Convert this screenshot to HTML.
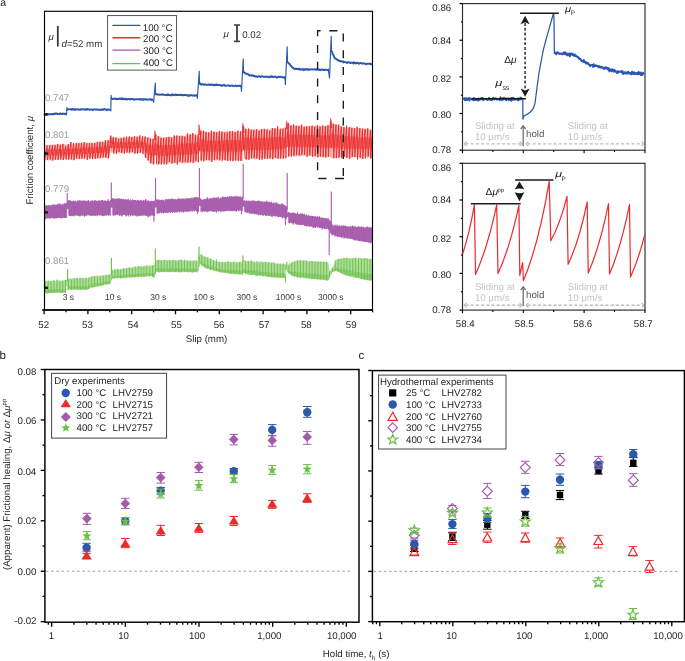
<!DOCTYPE html>
<html><head><meta charset="utf-8"><style>
html,body{margin:0;padding:0;background:#fff;width:685px;height:661px;overflow:hidden}
svg{display:block;font-family:"Liberation Sans",sans-serif;text-rendering:geometricPrecision;will-change:transform}
</style></head><body>
<svg width="685" height="661" viewBox="0 0 685 661" font-family="Liberation Sans, sans-serif">
<text x="0.3" y="5.9" font-size="10.6" text-anchor="start" fill="#2a2a2a" >a</text>
<polyline points="44.6,114.3 45.2,114.38 45.8,114.2 46.4,114 47,114.12 47.6,113.95 48.2,114.25 48.8,114.62 49.4,114.06 50,114.01 50.6,114.34 51.2,114.28 51.8,114.2 52.4,113.88 53,114.14 53.6,114.34 54.2,113.72 54.8,113.97 55.4,113.53 56,113.7 56.6,113.53 57.2,114 57.8,113.68 58.4,114.13 59,114.08 59.6,113.97 60.2,113.26 60.8,113.84 61.4,113.97 62,114.01 62.6,113.51 63.2,113.81 63.8,113.65 64.4,113.69 65,114.24 65.6,113.67 66.2,113.89" fill="none" stroke="#2b58ad" stroke-width="1.9" stroke-linejoin="round" stroke-linecap="round"/>
<polyline points="66.2,113.89 66.5,114.8 67,107.6 67.4,109.57" fill="none" stroke="#2b58ad" stroke-width="1.15" stroke-linejoin="round"/>
<polyline points="67.4,109.57 68,109.13 68.6,109.28 69.2,109.35 69.8,109.34 70.4,108.96 71,109.36 71.6,109.75 72.2,108.88 72.8,109.61 73.4,109.39 74,109.17 74.6,109.97 75.2,109.6 75.8,109.02 76.4,109.41 77,109.56 77.6,109.34 78.2,109.61 78.8,109.39 79.4,109.61 80,109.85 80.6,109.22 81.2,109.49 81.8,109.29 82.4,109.48 83,109.09 83.6,109.28 84.2,109.4 84.8,109.73 85.4,109.81 86,109.08 86.6,109.24 87.2,109.68 87.8,108.89 88.4,109.36 89,109.47 89.6,109.88 90.2,109.72 90.8,109.42 91.4,109.41 92,109.45 92.6,109.99 93.2,109.41 93.8,109.45 94.4,109.66 95,109.52 95.6,109.5 96.2,109.23 96.8,109.57 97.4,109.45 98,109.93 98.6,109.79 99.2,109.59 99.8,109.8 100.4,109.51 101,109.93 101.6,109.62 102.2,109.8 102.8,109.24 103.4,109.74 104,109.13 104.6,109.04 105.2,109.56 105.8,109.39 106.4,109.71 107,110.34 107.6,109.42 108.2,109.49 108.8,109.75 109.4,109.84 110,109.64" fill="none" stroke="#2b58ad" stroke-width="1.9" stroke-linejoin="round" stroke-linecap="round"/>
<polyline points="110,109.64 110.8,110.9 111.1,95.3 111.5,98.74" fill="none" stroke="#2b58ad" stroke-width="1.15" stroke-linejoin="round"/>
<polyline points="111.5,98.74 112.1,99.02 112.7,98.98 113.3,98.53 113.9,98.83 114.5,98.88 115.1,98.56 115.7,98.97 116.3,98.65 116.9,99.21 117.5,98.99 118.1,98.97 118.7,98.78 119.3,98.93 119.9,98.38 120.5,98.65 121.1,99.12 121.7,98.38 122.3,99.29 122.9,98.52 123.5,99.29 124.1,98.82 124.7,99.32 125.3,99.14 125.9,98.65 126.5,99.5 127.1,99.57 127.7,99.13 128.3,99.08 128.9,99.13 129.5,98.9 130.1,99.53 130.7,99.05 131.3,99.21 131.9,99 132.5,99.06 133.1,98.88 133.7,99.66 134.3,99.24 134.9,99.59 135.5,99.32 136.1,99.12 136.7,99.24 137.3,99.19 137.9,99.37 138.5,99.27 139.1,99.3 139.7,98.99 140.3,99.18 140.9,99.93 141.5,99.24 142.1,99.14 142.7,99.57 143.3,99.91 143.9,99.06 144.5,99.45 145.1,99.33 145.7,99.01 146.3,99.77 146.9,99.56 147.5,99.6 148.1,99.36 148.7,99.74 149.3,99.45 149.9,99.58 150.5,99.31 151.1,99.29 151.7,100.07 152.3,99.53 152.9,99.78" fill="none" stroke="#2b58ad" stroke-width="1.9" stroke-linejoin="round" stroke-linecap="round"/>
<polyline points="152.9,99.78 153.6,102.3 155.3,83.1 155.6,94.39" fill="none" stroke="#2b58ad" stroke-width="1.15" stroke-linejoin="round"/>
<polyline points="155.6,94.39 156.2,94.29 156.8,94.28 157.4,94.64 158,94.38 158.6,94.44 159.2,94.51 159.8,94.87 160.4,94.74 161,94.67 161.6,94.4 162.2,94.18 162.8,94.89 163.4,94.92 164,94.6 164.6,94.82 165.2,94.91 165.8,94.94 166.4,94.99 167,94.59 167.6,95.2 168.2,94.39 168.8,95.04 169.4,94.95 170,95.08 170.6,95.4 171.2,95.3 171.8,94.52 172.4,94.38 173,95.15 173.6,94.62 174.2,94.93 174.8,95.21 175.4,94.48 176,94.36 176.6,95.09 177.2,95.04 177.8,94.97 178.4,95.07 179,94.82 179.6,94.64 180.2,95.06 180.8,94.84 181.4,94.65 182,95.32 182.6,95.16 183.2,95.32 183.8,94.92 184.4,95.04 185,94.95 185.6,95 186.2,95.34 186.8,95.07 187.4,95.43 188,95.44 188.6,95.96 189.2,94.95 189.8,95.66 190.4,95.38 191,95.42 191.6,95.01 192.2,95.32 192.8,95.7 193.4,95.47 194,95.53 194.6,95.44 195.2,95.89 195.8,95.56 196.4,94.92 197,95.39" fill="none" stroke="#2b58ad" stroke-width="1.9" stroke-linejoin="round" stroke-linecap="round"/>
<polyline points="197,95.39 197.4,98.3 199.2,71.2 199.5,83.71" fill="none" stroke="#2b58ad" stroke-width="1.15" stroke-linejoin="round"/>
<polyline points="199.5,83.71 200.1,83.35 200.7,84.19 201.3,84.78 201.9,84.42 202.5,84.08 203.1,84.17 203.7,84.82 204.3,84.55 204.9,84.55 205.5,84.54 206.1,84.6 206.7,84.85 207.3,84.8 207.9,84.73 208.5,84.38 209.1,84.87 209.7,84.54 210.3,85.09 210.9,84.41 211.5,84.78 212.1,84.84 212.7,84.47 213.3,85.41 213.9,85.36 214.5,84.81 215.1,85.2 215.7,85.11 216.3,84.24 216.9,85.13 217.5,85.06 218.1,85.13 218.7,84.81 219.3,85.07 219.9,85.13 220.5,85.56 221.1,85.33 221.7,85.26 222.3,85.74 222.9,85.14 223.5,85.22 224.1,84.82 224.7,85.86 225.3,85.7 225.9,85.71 226.5,85.67 227.1,85.52 227.7,85.58 228.3,85.47 228.9,85.51 229.5,85.61 230.1,86.07 230.7,85.81 231.3,85.66 231.9,85.52 232.5,85.53 233.1,86.23 233.7,85.93 234.3,85.82 234.9,85.72 235.5,85.52 236.1,85.86 236.7,86.17 237.3,85.81 237.9,85.89 238.5,85.92 239.1,86.04 239.7,85.56 240.3,85.99 240.9,85.83" fill="none" stroke="#2b58ad" stroke-width="1.9" stroke-linejoin="round" stroke-linecap="round"/>
<polyline points="240.9,85.83 241.5,91.3 243.2,58.9 243.5,72.27" fill="none" stroke="#2b58ad" stroke-width="1.15" stroke-linejoin="round"/>
<polyline points="243.5,72.27 244.1,72.13 244.7,72.89 245.3,73.54 245.9,73.35 246.5,73.54 247.1,74.05 247.7,74.26 248.3,74.24 248.9,74.94 249.5,75.68 250.1,75.24 250.7,75.34 251.3,75.18 251.9,75.68 252.5,75.3 253.1,75.43 253.7,76.24 254.3,75.67 254.9,76.36 255.5,76.58 256.1,76.29 256.7,76.47 257.3,76.98 257.9,76.43 258.5,76.34 259.1,76.12 259.7,76.56 260.3,77 260.9,76.86 261.5,76.31 262.1,76.35 262.7,76.47 263.3,76.73 263.9,76.59 264.5,76.73 265.1,76.77 265.7,76.61 266.3,76.7 266.9,76.79 267.5,76.72 268.1,76.91 268.7,77.34 269.3,76.97 269.9,76.83 270.5,76.32 271.1,76.96 271.7,76.27 272.3,76.45 272.9,77.14 273.5,77.11 274.1,76.87 274.7,76.42 275.3,76.84 275.9,76.76 276.5,77.17 277.1,77.67 277.7,77.08 278.3,76.79 278.9,76.69 279.5,77.04 280.1,77.02 280.7,76.74 281.3,77.14 281.9,76.77 282.5,77.47 283.1,77.47 283.7,77.49 284.3,77.04 284.9,77.35" fill="none" stroke="#2b58ad" stroke-width="1.9" stroke-linejoin="round" stroke-linecap="round"/>
<polyline points="284.9,77.35 285.4,84.4 287.2,46.8 287.5,62.16" fill="none" stroke="#2b58ad" stroke-width="1.15" stroke-linejoin="round"/>
<polyline points="287.5,62.16 288.1,62.71 288.7,63.36 289.3,63.7 289.9,64.28 290.5,65.59 291.1,65.92 291.7,66.67 292.3,67.54 292.9,67.35 293.5,68.26 294.1,68.71 294.7,68.84 295.3,68.67 295.9,69.16 296.5,68.98 297.1,68.62 297.7,68.77 298.3,69.36 298.9,69.32 299.5,68.68 300.1,69.71 300.7,69.49 301.3,69.73 301.9,69.23 302.5,69.26 303.1,69.03 303.7,70.14 304.3,69.34 304.9,69.88 305.5,69.22 306.1,69.48 306.7,68.94 307.3,69.34 307.9,69.76 308.5,69.1 309.1,69.81 309.7,69.61 310.3,69.2 310.9,69.38 311.5,69.41 312.1,69.54 312.7,69.41 313.3,69.33 313.9,69.5 314.5,69.3 315.1,69.23 315.7,69.62 316.3,69.91 316.9,69.2 317.5,69.67 318.1,69.49 318.7,69.4 319.3,69.96 319.9,69.56 320.5,70.18 321.1,69.51 321.7,69.87 322.3,69.7 322.9,69.56 323.5,69.97 324.1,69.76 324.7,70 325.3,69.82 325.9,69.52 326.5,69.83 327.1,69.89 327.7,70.17 328.3,69.63" fill="none" stroke="#2b58ad" stroke-width="1.9" stroke-linejoin="round" stroke-linecap="round"/>
<polyline points="328.3,69.63 329.5,78 331.2,36.2 331.5,51.49" fill="none" stroke="#2b58ad" stroke-width="1.15" stroke-linejoin="round"/>
<polyline points="331.5,51.49 332.1,51.78 332.7,53.98 333.3,54.95 333.9,56.21 334.5,57.75 335.1,58.64 335.7,58.39 336.3,59.06 336.9,59.71 337.5,59.96 338.1,60.61 338.7,60.45 339.3,60.67 339.9,61.26 340.5,61.05 341.1,61.6 341.7,61.38 342.3,61.4 342.9,61.3 343.5,62.49 344.1,61.91 344.7,62.16 345.3,62.16 345.9,62.3 346.5,62.35 347.1,62.98 347.7,62.18 348.3,62.1 348.9,62.35 349.5,62.33 350.1,63.03 350.7,63.09 351.3,62.59 351.9,62.49 352.5,62.84 353.1,63.4 353.7,62.17 354.3,63.21 354.9,62.76 355.5,63.43 356.1,62.83 356.7,63.11 357.3,62.78 357.9,62.97 358.5,63.71 359.1,63.58 359.7,63.25 360.3,63.14 360.9,62.87 361.5,63.36 362.1,63.5 362.7,63.52 363.3,63.55 363.9,63.28 364.5,63.63 365.1,63.67 365.7,64.11 366.3,64.31 366.9,63.75 367.5,63.59 368.1,63.84 368.7,63.71 369.3,63.71 369.9,63.95 370.5,63.69 371.1,64.22 371.7,64.04" fill="none" stroke="#2b58ad" stroke-width="1.9" stroke-linejoin="round" stroke-linecap="round"/>
<polygon points="44.8,145.53 45.5,145.23 46.2,144.87 46.9,144.7 47.6,145.08 48.3,144.86 49,145.29 49.7,145.11 50.4,144.25 51.1,145.07 51.8,144.19 52.5,144.58 53.2,144.74 53.9,143.63 54.6,144.89 55.3,144.89 56,144.66 56.7,144.46 57.4,144.46 58.1,144.06 58.8,144.44 59.5,144.23 60.2,144.58 60.9,143.76 61.6,144.59 62.3,144.49 63,144.28 63.7,144.06 64.4,144.62 65.1,143.25 65.8,144.49 66.5,144.31 67.2,144.29 67.9,144.3 68.6,143.62 69.3,143.81 70,144.3 70.7,144.13 71.4,143.94 72.1,142.86 72.8,144.04 73.5,144.37 74.2,144.23 74.9,143.71 75.6,142.59 76.3,144.04 77,143.34 77.7,141.85 78.4,143.55 79.1,142.38 79.8,142.45 80.5,142.8 81.2,143.89 81.9,142.86 82.6,143.19 83.3,144.03 84,143.89 84.7,142.82 85.4,142.69 86.1,142.02 86.8,142.32 87.5,142.94 88.2,142.87 88.9,142.65 89.6,143.13 90.3,142.02 91,142.4 91.7,142.82 92.4,142.69 93.1,142.93 93.8,142.48 94.5,142 95.2,142.36 95.9,141.49 96.6,141.06 97.3,142.34 98,141.91 98.7,142.08 99.4,140.82 100.1,141.58 100.8,141.41 101.5,141.22 102.2,140.36 102.9,141.49 103.6,142.2 104.3,141.86 105,141.24 105.7,141.57 106.4,142 107.1,139.87 107.8,141.42 108.5,141.79 109.2,141.85 109.9,142.43 110.6,137.36 111.3,136.03 112,136.42 112.7,137.1 113.4,136.55 114.1,136.97 114.8,137.66 115.5,138.41 116.2,137.26 116.9,137.45 117.6,137.6 118.3,138.26 119,137.41 119.7,138.29 120.4,136.8 121.1,137.24 121.8,137.21 122.5,137.78 123.2,137.91 123.9,136.35 124.6,136.68 125.3,137.41 126,136.79 126.7,136.24 127.4,137.76 128.1,137.4 128.8,137.38 129.5,136.77 130.2,137.65 130.9,136.87 131.6,137.64 132.3,136.41 133,136.42 133.7,137.03 134.4,136.46 135.1,137.27 135.8,136.99 136.5,136.26 137.2,136.83 137.9,136.55 138.6,137.29 139.3,136.33 140,136.42 140.7,137.39 141.4,137.98 142.1,137.81 142.8,136.67 143.5,136.85 144.2,137.71 144.9,136.8 145.6,136.37 146.3,137.16 147,137.57 147.7,137.01 148.4,136.73 149.1,137.07 149.8,138.54 150.5,137.87 151.2,138.42 151.9,138.8 152.6,139.22 153.3,138.82 154,139.5 154.7,134.99 155.4,133.36 156.1,133.77 156.8,135.87 157.5,135.98 158.2,135.81 158.9,136.29 159.6,136.61 160.3,137.42 161,136.29 161.7,136.87 162.4,137.33 163.1,139.01 163.8,137.99 164.5,137.28 165.2,137.7 165.9,138.44 166.6,136.99 167.3,136.84 168,137.72 168.7,137.22 169.4,137.25 170.1,136.48 170.8,137.86 171.5,137.67 172.2,136.91 172.9,136.91 173.6,135.21 174.3,136.74 175,136.17 175.7,136.48 176.4,136.55 177.1,135.87 177.8,134.99 178.5,136.15 179.2,135.42 179.9,135.59 180.6,135.36 181.3,135.44 182,134.19 182.7,136.24 183.4,135.59 184.1,136.03 184.8,136.48 185.5,135.24 186.2,134.07 186.9,134.55 187.6,134.29 188.3,134.64 189,134.92 189.7,133.6 190.4,134.93 191.1,133.75 191.8,134.77 192.5,134.45 193.2,134.26 193.9,134.33 194.6,133.98 195.3,133.87 196,133.15 196.7,134.07 197.4,135.13 198.1,135.14 198.8,132.73 199.5,128.69 200.2,128.49 200.9,130.38 201.6,130.11 202.3,130.55 203,130.63 203.7,131.07 204.4,130.96 205.1,131.38 205.8,130.99 206.5,131.63 207.2,133.37 207.9,131.95 208.6,131.84 209.3,132.29 210,132.39 210.7,131.29 211.4,131.83 212.1,132.49 212.8,132.1 213.5,132 214.2,132.85 214.9,131.5 215.6,131.95 216.3,131.58 217,132.78 217.7,130.71 218.4,131.47 219.1,131.55 219.8,132.25 220.5,132.21 221.2,132.68 221.9,130.89 222.6,132.27 223.3,131.64 224,131.41 224.7,132.12 225.4,131.24 226.1,130.54 226.8,131.55 227.5,130.87 228.2,131.37 228.9,131.98 229.6,131.93 230.3,132.69 231,131.61 231.7,130.8 232.4,131.26 233.1,131.15 233.8,130.97 234.5,131.95 235.2,131.3 235.9,130.49 236.6,132.08 237.3,131.59 238,131.86 238.7,131.71 239.4,132.01 240.1,131.65 240.8,132.36 241.5,131.87 242.2,131.84 242.9,128.11 243.6,125.56 244.3,126.94 245,127.48 245.7,128.37 246.4,127.79 247.1,129.77 247.8,129.03 248.5,128.42 249.2,128.31 249.9,129.35 250.6,129.64 251.3,129.36 252,129.81 252.7,129.34 253.4,130.03 254.1,129.23 254.8,129.62 255.5,130.2 256.2,131.12 256.9,128.95 257.6,129.24 258.3,128.99 259,129.93 259.7,128.74 260.4,129.11 261.1,129.36 261.8,128.76 262.5,128.74 263.2,129 263.9,128 264.6,128.36 265.3,128.95 266,129.26 266.7,129.03 267.4,128.05 268.1,128.8 268.8,129.53 269.5,129.35 270.2,128.94 270.9,128.4 271.6,129.26 272.3,128.48 273,128.08 273.7,128.24 274.4,129.54 275.1,128.75 275.8,129.27 276.5,128.23 277.2,129.03 277.9,128.05 278.6,128.27 279.3,129.8 280,128.72 280.7,127.91 281.4,128.1 282.1,128.3 282.8,128.78 283.5,127.71 284.2,126.9 284.9,127.73 285.6,127.85 286.3,126.98 287,123.42 287.7,123.25 288.4,123.99 289.1,123.28 289.8,124.9 290.5,125.88 291.2,125.25 291.9,125.11 292.6,125.22 293.3,126.36 294,124.9 294.7,125.56 295.4,125.98 296.1,126.16 296.8,125.45 297.5,125.91 298.2,125.56 298.9,125.81 299.6,125.66 300.3,125.06 301,125.74 301.7,126.28 302.4,125.18 303.1,125.62 303.8,126.17 304.5,125.14 305.2,125.9 305.9,125.16 306.6,126.48 307.3,127.19 308,127.02 308.7,125.69 309.4,126.27 310.1,125.9 310.8,125.9 311.5,126.77 312.2,125.06 312.9,126.49 313.6,125.83 314.3,126.71 315,125.98 315.7,125.47 316.4,126.05 317.1,126.33 317.8,125.92 318.5,126.19 319.2,125.59 319.9,124.63 320.6,126.46 321.3,126.34 322,126.02 322.7,125.98 323.4,126.57 324.1,125.68 324.8,125.53 325.5,125.85 326.2,126.68 326.9,125.14 327.6,126.69 328.3,125.6 329,125.33 329.7,126.75 330.4,123.37 331.1,121.02 331.8,122.12 332.5,123.42 333.2,124.11 333.9,123.67 334.6,124.44 335.3,124.86 336,124.28 336.7,125.11 337.4,125.11 338.1,125.05 338.8,125.3 339.5,125.87 340.2,126.04 340.9,125.76 341.6,125.92 342.3,126.92 343,126.45 343.7,126.93 344.4,127.2 345.1,126.9 345.8,127.99 346.5,126.21 347.2,127.26 347.9,126.66 348.6,128.04 349.3,128.02 350,125.91 350.7,126.57 351.4,127.63 352.1,127.78 352.8,127.82 353.5,127.42 354.2,127.81 354.9,128 355.6,127.64 356.3,128.38 357,126.48 357.7,128.29 358.4,127.37 359.1,128.64 359.8,128 360.5,127.68 361.2,128.51 361.9,127.82 362.6,127.89 363.3,127.58 364,128.58 364.7,128.97 365.4,129.36 366.1,128.73 366.8,129.52 367.5,128.98 368.2,128.99 368.9,129.47 369.6,129.83 370.3,129.07 371,129.2 371.7,129.33 372.4,129.55 372.4,157.19 371.7,156.71 371,157.66 370.3,157.47 369.6,157.7 368.9,156.98 368.2,158.55 367.5,159.19 366.8,155.93 366.1,157.21 365.4,158.5 364.7,156.69 364,158.48 363.3,157.39 362.6,158.11 361.9,158.62 361.2,158.05 360.5,157.03 359.8,157.11 359.1,156.75 358.4,157.87 357.7,157.66 357,157.03 356.3,157.51 355.6,156.75 354.9,157.33 354.2,156.57 353.5,157.36 352.8,157.25 352.1,157.96 351.4,157.77 350.7,157.77 350,158.08 349.3,157.4 348.6,158.02 347.9,157.17 347.2,157.89 346.5,159.02 345.8,158.47 345.1,156.86 344.4,156.91 343.7,157.06 343,157.74 342.3,157.15 341.6,158.58 340.9,157.67 340.2,156.81 339.5,157.47 338.8,156.94 338.1,158.27 337.4,157.57 336.7,157.35 336,158.59 335.3,157.89 334.6,158.74 333.9,159.17 333.2,158.06 332.5,158.13 331.8,157.74 331.1,158.49 330.4,156.84 329.7,155.67 329,156.86 328.3,156.22 327.6,156.9 326.9,157.83 326.2,157.82 325.5,157.73 324.8,156.27 324.1,157.89 323.4,157.2 322.7,158.45 322,155.21 321.3,156.27 320.6,157.05 319.9,155.96 319.2,156.72 318.5,157.2 317.8,157.32 317.1,157.13 316.4,155.86 315.7,158.08 315,155.17 314.3,157.41 313.6,156.89 312.9,156.24 312.2,155.11 311.5,156.02 310.8,156.59 310.1,156.13 309.4,155.22 308.7,156.61 308,156.62 307.3,155.84 306.6,156.54 305.9,156.49 305.2,155.56 304.5,155.3 303.8,156.28 303.1,156.28 302.4,155.26 301.7,155.34 301,155.8 300.3,157.01 299.6,155.76 298.9,155.8 298.2,156.46 297.5,155.48 296.8,154.96 296.1,157.04 295.4,156.06 294.7,155.95 294,154.96 293.3,155.23 292.6,155.02 291.9,155.94 291.2,155.57 290.5,155.65 289.8,156.11 289.1,156.68 288.4,155.98 287.7,156.4 287,157.2 286.3,157.75 285.6,158.16 284.9,157.84 284.2,157.58 283.5,157.01 282.8,158.59 282.1,157.24 281.4,158.19 280.7,158.66 280,158.37 279.3,159.6 278.6,158.55 277.9,157.09 277.2,157.97 276.5,158.16 275.8,159.26 275.1,159.08 274.4,157.41 273.7,158.45 273,158.51 272.3,159.3 271.6,158.54 270.9,158 270.2,156.94 269.5,158.62 268.8,158.89 268.1,158.17 267.4,159.21 266.7,157.6 266,159.03 265.3,158.54 264.6,159.09 263.9,158.71 263.2,158.06 262.5,158.77 261.8,157.61 261.1,159.61 260.4,158.63 259.7,158.34 259,158.78 258.3,158.74 257.6,158.58 256.9,158.65 256.2,159.32 255.5,159.76 254.8,159.09 254.1,159.49 253.4,158.25 252.7,159.73 252,157.92 251.3,158.09 250.6,157.92 249.9,158.94 249.2,159.78 248.5,159.54 247.8,159.18 247.1,159.79 246.4,159.33 245.7,159.36 245,158.85 244.3,158.93 243.6,159.61 242.9,160.59 242.2,161.04 241.5,160.93 240.8,160.42 240.1,160.47 239.4,161.33 238.7,160.07 238,162.19 237.3,160.44 236.6,160.7 235.9,160.12 235.2,160.96 234.5,160.61 233.8,159.95 233.1,160.21 232.4,160.97 231.7,160.08 231,160.76 230.3,160.64 229.6,159.76 228.9,160.23 228.2,161.72 227.5,159.82 226.8,160.21 226.1,161.22 225.4,160.62 224.7,159.91 224,160.23 223.3,160.09 222.6,159.03 221.9,160.7 221.2,161.14 220.5,161.06 219.8,160.63 219.1,160.9 218.4,161.37 217.7,159.94 217,160.28 216.3,161.05 215.6,160.27 214.9,160.69 214.2,160.42 213.5,159.58 212.8,160.9 212.1,161.32 211.4,161.21 210.7,161.23 210,161.21 209.3,160.88 208.6,160.67 207.9,160.3 207.2,160.09 206.5,160.28 205.8,161.26 205.1,160.89 204.4,159.59 203.7,160.64 203,161.28 202.3,159.78 201.6,159.63 200.9,159.98 200.2,159.6 199.5,160.48 198.8,162.75 198.1,162.68 197.4,162.2 196.7,162.62 196,161.91 195.3,162.32 194.6,162.42 193.9,163.09 193.2,163.05 192.5,162.54 191.8,162.04 191.1,161.56 190.4,162.41 189.7,162.35 189,162.82 188.3,161.9 187.6,163.25 186.9,162.68 186.2,162.72 185.5,163.67 184.8,163.55 184.1,163.6 183.4,163.48 182.7,162.65 182,163.52 181.3,163.39 180.6,163.17 179.9,162.74 179.2,162.58 178.5,163.04 177.8,162.03 177.1,163.13 176.4,163.21 175.7,163.2 175,162.78 174.3,163.07 173.6,163.46 172.9,163.15 172.2,162.07 171.5,164.38 170.8,162.75 170.1,162.38 169.4,163.35 168.7,163.17 168,163.86 167.3,163.6 166.6,163.39 165.9,163.03 165.2,163.7 164.5,164.02 163.8,163.17 163.1,162.77 162.4,163.29 161.7,163.52 161,164.47 160.3,164.14 159.6,163.81 158.9,163.86 158.2,163.46 157.5,165.4 156.8,164.06 156.1,163.96 155.4,163.43 154.7,164.03 154,163.23 153.3,163.26 152.6,163.76 151.9,163.36 151.2,162.99 150.5,163.45 149.8,163.75 149.1,162.12 148.4,160.7 147.7,160.1 147,160.19 146.3,157.88 145.6,156.66 144.9,156.91 144.2,156.22 143.5,154.62 142.8,152.5 142.1,152.85 141.4,151.91 140.7,152.8 140,153.94 139.3,152.81 138.6,153.32 137.9,152.8 137.2,152.9 136.5,152.73 135.8,153.19 135.1,153.96 134.4,152.49 133.7,153.58 133,152.93 132.3,153.02 131.6,153.12 130.9,153.29 130.2,153.36 129.5,153.26 128.8,153.66 128.1,152.91 127.4,152.47 126.7,152.96 126,152.26 125.3,152.7 124.6,152.71 123.9,153.38 123.2,152.59 122.5,152.78 121.8,152.57 121.1,152.76 120.4,153 119.7,153.32 119,154.34 118.3,153.01 117.6,151.93 116.9,154.19 116.2,154.02 115.5,152.39 114.8,153.01 114.1,153.28 113.4,152.42 112.7,152.23 112,152.85 111.3,152.73 110.6,153.31 109.9,158.29 109.2,156.99 108.5,158.93 107.8,158.1 107.1,158.37 106.4,158.29 105.7,158.03 105,157.99 104.3,157.46 103.6,156.66 102.9,158.97 102.2,157.1 101.5,157.98 100.8,157.45 100.1,157.56 99.4,158.72 98.7,158.58 98,157.4 97.3,158.83 96.6,159.28 95.9,158.48 95.2,157.85 94.5,158.71 93.8,156.95 93.1,157.91 92.4,157.43 91.7,157.72 91,158.2 90.3,158.98 89.6,159.02 88.9,158.11 88.2,158.06 87.5,159.19 86.8,158.38 86.1,158.13 85.4,158.02 84.7,159.41 84,160.22 83.3,158.86 82.6,157.99 81.9,158.69 81.2,158.41 80.5,158.71 79.8,159.48 79.1,158.81 78.4,157.83 77.7,160.09 77,159.06 76.3,159.61 75.6,159 74.9,159.53 74.2,158.63 73.5,159.32 72.8,159.4 72.1,160.37 71.4,159.69 70.7,159.34 70,159.22 69.3,159.62 68.6,158.65 67.9,159.9 67.2,158.91 66.5,160.53 65.8,159.03 65.1,158.4 64.4,159.01 63.7,158.63 63,158.84 62.3,159.88 61.6,159.61 60.9,159.34 60.2,159.35 59.5,160.03 58.8,158.5 58.1,159.72 57.4,158.79 56.7,159.73 56,159.96 55.3,159.99 54.6,160.23 53.9,159.76 53.2,159.62 52.5,160.62 51.8,161.13 51.1,160.31 50.4,161.32 49.7,159.88 49,160.39 48.3,160.39 47.6,159.7 46.9,160.5 46.2,160 45.5,160.88 44.8,159.75" fill="#ec2a2a" fill-opacity="0.3"/>
<polygon points="44.8,150.04 45.5,149.91 46.2,150.27 46.9,149.78 47.6,150.66 48.3,149.4 49,149.75 49.7,148.85 50.4,149.08 51.1,150.08 51.8,149.14 52.5,149.69 53.2,149.42 53.9,148.99 54.6,149.24 55.3,149.14 56,149.11 56.7,149.58 57.4,149.5 58.1,148.97 58.8,148.81 59.5,149.25 60.2,149.06 60.9,149.48 61.6,150.1 62.3,149.34 63,148.95 63.7,148.86 64.4,148.56 65.1,148.5 65.8,148.43 66.5,148.63 67.2,148.57 67.9,149 68.6,148.5 69.3,148.53 70,148.08 70.7,149.18 71.4,148.68 72.1,149.15 72.8,148.71 73.5,148.94 74.2,148.2 74.9,148.54 75.6,149.29 76.3,147.68 77,148.59 77.7,148.76 78.4,148.2 79.1,148.29 79.8,148.46 80.5,147.63 81.2,148.02 81.9,147.45 82.6,147.49 83.3,147.47 84,147.62 84.7,147.69 85.4,147.77 86.1,146.96 86.8,148.31 87.5,147.93 88.2,147.71 88.9,147.22 89.6,147.28 90.3,147.5 91,147.4 91.7,146.5 92.4,147.45 93.1,148.29 93.8,146.3 94.5,147.42 95.2,147.12 95.9,146.87 96.6,147.44 97.3,146.35 98,146.85 98.7,147.34 99.4,146.62 100.1,146.49 100.8,146.69 101.5,146.45 102.2,147.25 102.9,146.23 103.6,146.95 104.3,146.07 105,146.84 105.7,146.51 106.4,145.48 107.1,146.53 107.8,146.08 108.5,146.32 109.2,147.12 109.9,146.02 110.6,141.36 111.3,141.48 112,141.23 112.7,142.11 113.4,141.78 114.1,141.37 114.8,141.79 115.5,142.41 116.2,142.38 116.9,142.08 117.6,142.1 118.3,142.02 119,141.81 119.7,142.83 120.4,142.03 121.1,141.55 121.8,141.8 122.5,142.29 123.2,142.24 123.9,141.9 124.6,141.67 125.3,141.94 126,141.23 126.7,141.37 127.4,142.22 128.1,141.68 128.8,142.02 129.5,142.36 130.2,142.11 130.9,141.84 131.6,142.69 132.3,142.08 133,141.64 133.7,142.08 134.4,141.93 135.1,141.4 135.8,141.77 136.5,141.66 137.2,140.9 137.9,141.63 138.6,141.57 139.3,141.49 140,140.98 140.7,141.5 141.4,141.61 142.1,141.66 142.8,141.29 143.5,142.35 144.2,141.93 144.9,142.68 145.6,143.64 146.3,143.18 147,143.64 147.7,144.67 148.4,144.46 149.1,144.88 149.8,145.47 150.5,146.06 151.2,144.92 151.9,145.68 152.6,145.8 153.3,145.96 154,146.25 154.7,143.72 155.4,142.83 156.1,142.9 156.8,143.88 157.5,144.56 158.2,144.27 158.9,144.78 159.6,145.57 160.3,145.19 161,144.96 161.7,145.36 162.4,145.05 163.1,145.48 163.8,145.66 164.5,144.92 165.2,145.11 165.9,145.59 166.6,144.87 167.3,145.1 168,144.54 168.7,144.57 169.4,144.64 170.1,145.66 170.8,144.57 171.5,144.46 172.2,144.39 172.9,144.49 173.6,144.76 174.3,144.51 175,145.2 175.7,144.41 176.4,144.84 177.1,144.32 177.8,144.39 178.5,143.51 179.2,143.98 179.9,143.95 180.6,143.82 181.3,143 182,144.15 182.7,143.59 183.4,143.51 184.1,143.52 184.8,143.47 185.5,143.67 186.2,142.94 186.9,143.02 187.6,143.45 188.3,143.33 189,143.07 189.7,142.93 190.4,142.77 191.1,143.02 191.8,143.46 192.5,142.5 193.2,143.48 193.9,143.15 194.6,142.57 195.3,143.01 196,142.05 196.7,141.89 197.4,142 198.1,142.3 198.8,140.73 199.5,137.73 200.2,138.41 200.9,137.96 201.6,139.45 202.3,139 203,139.45 203.7,139.69 204.4,139.54 205.1,139.6 205.8,139.9 206.5,140.44 207.2,140.78 207.9,140.77 208.6,140.14 209.3,140.22 210,140.16 210.7,140.7 211.4,139.7 212.1,141.01 212.8,140.31 213.5,140.19 214.2,140.63 214.9,140.9 215.6,140.62 216.3,140.9 217,140.52 217.7,140.96 218.4,140.96 219.1,140.41 219.8,141.02 220.5,140.51 221.2,140.47 221.9,140.06 222.6,140.31 223.3,140.73 224,139.89 224.7,140.67 225.4,140.54 226.1,140.51 226.8,139.51 227.5,140.35 228.2,140.64 228.9,140.07 229.6,140.41 230.3,139.41 231,140.63 231.7,140.09 232.4,140.7 233.1,139.61 233.8,140.62 234.5,140.24 235.2,140.65 235.9,139.95 236.6,140.07 237.3,141.21 238,139.97 238.7,140.02 239.4,140.18 240.1,139.88 240.8,140.76 241.5,140.97 242.2,139.99 242.9,136.77 243.6,136.79 244.3,137.16 245,137.43 245.7,137.95 246.4,137.37 247.1,137.77 247.8,137.4 248.5,137.51 249.2,138.59 249.9,138.04 250.6,139.34 251.3,138.52 252,138.21 252.7,138.76 253.4,139.14 254.1,138.59 254.8,137.88 255.5,138.49 256.2,138.87 256.9,138.1 257.6,137.96 258.3,138.66 259,138.28 259.7,137.76 260.4,138.03 261.1,137.85 261.8,138.25 262.5,138.15 263.2,138.54 263.9,138.34 264.6,137.41 265.3,138.17 266,138.35 266.7,138.15 267.4,138.35 268.1,137.7 268.8,137.51 269.5,138.24 270.2,137.41 270.9,136.92 271.6,138.15 272.3,137.4 273,137.52 273.7,137.04 274.4,137.02 275.1,137.04 275.8,137.31 276.5,137.55 277.2,136.44 277.9,137.61 278.6,136.79 279.3,136.79 280,137.44 280.7,137.09 281.4,136.45 282.1,137.76 282.8,136.63 283.5,137.02 284.2,136.96 284.9,137.39 285.6,136.6 286.3,136.49 287,132.63 287.7,133.65 288.4,133.17 289.1,133.6 289.8,134.78 290.5,134.29 291.2,134.3 291.9,135.24 292.6,134.57 293.3,134.19 294,134.9 294.7,134.22 295.4,135.19 296.1,135.23 296.8,134.53 297.5,134.52 298.2,134.85 298.9,134.8 299.6,134.41 300.3,135.04 301,134.01 301.7,134.67 302.4,134.69 303.1,134.75 303.8,135 304.5,134.39 305.2,135.13 305.9,134.84 306.6,134.66 307.3,134.38 308,134.47 308.7,135.1 309.4,134.58 310.1,135 310.8,135.41 311.5,135.41 312.2,135.63 312.9,134.9 313.6,134.6 314.3,135.45 315,135.18 315.7,135.52 316.4,135.08 317.1,135.57 317.8,135.44 318.5,135.4 319.2,135.33 319.9,135.29 320.6,135.24 321.3,135.25 322,135.57 322.7,134.98 323.4,135.89 324.1,135.16 324.8,135.61 325.5,135.19 326.2,135.14 326.9,136.06 327.6,135.14 328.3,134.76 329,135 329.7,135.17 330.4,134.62 331.1,132.88 331.8,133.51 332.5,133.07 333.2,133.95 333.9,134.42 334.6,135.05 335.3,134.2 336,134.87 336.7,134.9 337.4,134.52 338.1,135.07 338.8,135.12 339.5,134.44 340.2,135.73 340.9,135.76 341.6,135.43 342.3,135.12 343,136.3 343.7,135.87 344.4,136.22 345.1,136.43 345.8,135.71 346.5,136.3 347.2,135.93 347.9,136.05 348.6,136.1 349.3,136.18 350,136.68 350.7,136.34 351.4,136.28 352.1,136.28 352.8,136.58 353.5,136.14 354.2,136.35 354.9,136.59 355.6,136.43 356.3,136.67 357,136.52 357.7,137.62 358.4,137.4 359.1,137.1 359.8,136.96 360.5,137.91 361.2,137.21 361.9,137.1 362.6,137.31 363.3,137.36 364,137.86 364.7,137.34 365.4,138.24 366.1,137.1 366.8,137.78 367.5,137.16 368.2,138.34 368.9,137.53 369.6,137.69 370.3,138.14 371,138.33 371.7,137.43 372.4,137.79 372.4,149.47 371.7,148.67 371,148.8 370.3,148.9 369.6,148.7 368.9,148.39 368.2,149.2 367.5,149.28 366.8,148.57 366.1,149.33 365.4,148.35 364.7,148.76 364,149.02 363.3,148.77 362.6,149.18 361.9,148.65 361.2,148.76 360.5,148.67 359.8,148.86 359.1,149.08 358.4,148.56 357.7,148.9 357,148.6 356.3,148.68 355.6,148.53 354.9,148.67 354.2,148.1 353.5,148.86 352.8,149.05 352.1,149.16 351.4,147.93 350.7,148.28 350,148.02 349.3,149 348.6,148.66 347.9,148.46 347.2,148.59 346.5,148.58 345.8,148.7 345.1,148.21 344.4,148.02 343.7,146.86 343,147.87 342.3,147.96 341.6,148.52 340.9,149.28 340.2,148.59 339.5,148.45 338.8,147.47 338.1,147.89 337.4,147.4 336.7,147.48 336,147.81 335.3,148.03 334.6,147.99 333.9,147.25 333.2,147.14 332.5,147.55 331.8,147.75 331.1,147.61 330.4,148.47 329.7,147.53 329,147.89 328.3,148.09 327.6,148.22 326.9,147.5 326.2,147.49 325.5,148.24 324.8,147.25 324.1,147.27 323.4,147.62 322.7,147.84 322,147.67 321.3,147.4 320.6,147.48 319.9,147.33 319.2,147.8 318.5,147.39 317.8,147.85 317.1,146.99 316.4,147.11 315.7,147.1 315,147.25 314.3,147.21 313.6,147.11 312.9,147.36 312.2,147.68 311.5,147.31 310.8,146.43 310.1,147.21 309.4,145.69 308.7,146.91 308,147.13 307.3,147.17 306.6,147.16 305.9,146.75 305.2,146.89 304.5,146.7 303.8,146.92 303.1,147.44 302.4,146.67 301.7,147.28 301,146.7 300.3,147.31 299.6,147.43 298.9,146.41 298.2,146.93 297.5,147.15 296.8,146.61 296.1,146.62 295.4,146.85 294.7,146.61 294,146.64 293.3,146.14 292.6,147.35 291.9,147.11 291.2,147.17 290.5,146.73 289.8,146.62 289.1,146.76 288.4,146.83 287.7,146.6 287,146.66 286.3,148.73 285.6,148.59 284.9,148.89 284.2,148.36 283.5,148.7 282.8,148.91 282.1,148.51 281.4,148.52 280.7,149.11 280,149.01 279.3,148.87 278.6,149.6 277.9,149.43 277.2,150 276.5,149.83 275.8,148.92 275.1,148.7 274.4,148.99 273.7,149.34 273,149.51 272.3,149.2 271.6,149.4 270.9,150.07 270.2,149.22 269.5,150.28 268.8,149.98 268.1,149.95 267.4,149.74 266.7,150.29 266,150.33 265.3,149.4 264.6,150.2 263.9,149.62 263.2,149.52 262.5,149.96 261.8,150.68 261.1,150.34 260.4,149.55 259.7,149.47 259,149.43 258.3,150.68 257.6,149.66 256.9,149.68 256.2,150.01 255.5,149.93 254.8,149.25 254.1,149.97 253.4,149.72 252.7,150.45 252,149.84 251.3,149.77 250.6,150.03 249.9,149.48 249.2,150.42 248.5,150.37 247.8,150.85 247.1,150.5 246.4,149.06 245.7,150.09 245,149.88 244.3,149.68 243.6,149.87 242.9,150.3 242.2,151.6 241.5,151.97 240.8,151.99 240.1,151.08 239.4,152.61 238.7,151.57 238,151.75 237.3,151.74 236.6,151.41 235.9,151.95 235.2,152.24 234.5,151.46 233.8,152.89 233.1,152.05 232.4,151.3 231.7,151.31 231,151.42 230.3,151.46 229.6,152.22 228.9,151.55 228.2,151.74 227.5,151.61 226.8,152.44 226.1,151.92 225.4,151.64 224.7,151.92 224,151.59 223.3,152.19 222.6,151.22 221.9,151.33 221.2,151.25 220.5,151.78 219.8,152.16 219.1,152.65 218.4,151.98 217.7,151.56 217,151.81 216.3,151.35 215.6,151.85 214.9,151.93 214.2,151.71 213.5,151.48 212.8,151.62 212.1,151.65 211.4,151.84 210.7,152.05 210,152.51 209.3,151.35 208.6,152.14 207.9,151.67 207.2,151.8 206.5,151.16 205.8,151.45 205.1,151.67 204.4,151.61 203.7,152.17 203,150.83 202.3,152.24 201.6,151.62 200.9,151.55 200.2,151.21 199.5,151.44 198.8,152.96 198.1,154.03 197.4,154.09 196.7,154.08 196,153.42 195.3,154.43 194.6,154 193.9,153.87 193.2,153.82 192.5,153.76 191.8,154.47 191.1,154.69 190.4,154.37 189.7,153.93 189,154.98 188.3,153.99 187.6,154.94 186.9,154.73 186.2,154.65 185.5,154.45 184.8,154.62 184.1,154.43 183.4,155.67 182.7,155.15 182,154.18 181.3,154.82 180.6,153.72 179.9,155.16 179.2,155.39 178.5,154.8 177.8,155.07 177.1,155.35 176.4,154.46 175.7,155.23 175,154.95 174.3,155.61 173.6,155.37 172.9,155.59 172.2,155.53 171.5,155.29 170.8,155.11 170.1,155.42 169.4,155.89 168.7,156.01 168,155.03 167.3,156.11 166.6,155.3 165.9,155.72 165.2,155.78 164.5,155.67 163.8,156.04 163.1,156.29 162.4,155.89 161.7,156.55 161,156.1 160.3,155.81 159.6,155.62 158.9,156.47 158.2,155.6 157.5,155.55 156.8,154.47 156.1,154.82 155.4,155.71 154.7,154.96 154,156.68 153.3,156.02 152.6,156.83 151.9,155.94 151.2,156.01 150.5,155.25 149.8,154.66 149.1,155.11 148.4,154.22 147.7,152.73 147,152.43 146.3,152.2 145.6,151.93 144.9,150.09 144.2,150.69 143.5,148.71 142.8,148.18 142.1,148.03 141.4,148.29 140.7,148.33 140,147.59 139.3,148.3 138.6,147.8 137.9,147.98 137.2,148.13 136.5,148.27 135.8,148 135.1,148.85 134.4,148.47 133.7,148.12 133,147.71 132.3,148.16 131.6,147.88 130.9,149 130.2,148.24 129.5,148.83 128.8,148.44 128.1,148.46 127.4,148.56 126.7,148.58 126,148.91 125.3,148.06 124.6,148.01 123.9,148.39 123.2,147.92 122.5,147.81 121.8,148.27 121.1,147.92 120.4,148.28 119.7,149.06 119,148.03 118.3,148.28 117.6,148.54 116.9,147.26 116.2,147.91 115.5,148.27 114.8,147.55 114.1,147.6 113.4,148.55 112.7,148.31 112,147.16 111.3,147.78 110.6,148.62 109.9,153.15 109.2,152.98 108.5,153.71 107.8,153.33 107.1,153.89 106.4,153.59 105.7,152.77 105,152.48 104.3,153.27 103.6,153.61 102.9,153.69 102.2,152.71 101.5,153.25 100.8,153 100.1,153.43 99.4,153.14 98.7,152.56 98,153.51 97.3,152.97 96.6,152.77 95.9,153.16 95.2,153.18 94.5,153.75 93.8,153.12 93.1,153.45 92.4,153.69 91.7,153.44 91,153.28 90.3,153.16 89.6,153.75 88.9,153.47 88.2,152.94 87.5,153.86 86.8,154.94 86.1,153.95 85.4,154.03 84.7,153.46 84,153.97 83.3,153.83 82.6,154.63 81.9,154.85 81.2,154.35 80.5,154.48 79.8,154.23 79.1,153.83 78.4,154.57 77.7,155.05 77,154.05 76.3,154.44 75.6,154.33 74.9,154.82 74.2,154.79 73.5,154.55 72.8,154.34 72.1,155.02 71.4,154.2 70.7,154.21 70,154.78 69.3,154.17 68.6,154.64 67.9,154.62 67.2,154.44 66.5,154.66 65.8,155.56 65.1,155.63 64.4,154.73 63.7,154.63 63,155.59 62.3,155.52 61.6,155.09 60.9,155.3 60.2,155.45 59.5,154.62 58.8,155.17 58.1,155.44 57.4,155.26 56.7,155.39 56,155.65 55.3,154.99 54.6,155.37 53.9,155.08 53.2,155.68 52.5,155.35 51.8,155.5 51.1,154.8 50.4,156.2 49.7,155.84 49,155.35 48.3,155.53 47.6,155.43 46.9,155.6 46.2,155.72 45.5,155.85 44.8,155.26" fill="#ec2a2a" fill-opacity="0.45"/>
<polyline points="44.8,160.12 47.13,145.52 47.45,159.9 49.78,145.32 50.1,159.59 52.43,144.94 52.75,160.44 55.08,144.84 55.4,159.63 57.73,143.9 58.05,159.98 60.38,144.76 60.7,159.59 63.03,143.83 63.35,160.07 65.68,145.95 66,159.39 68.33,144.27 68.65,159.74 70.98,142.05 71.3,159.44 73.63,143.17 73.95,160.2 76.28,143.3 76.6,158.56 78.93,143.13 79.25,159.09 81.58,142.71 81.9,158.81 84.23,141.97 84.55,158.57 86.88,143.27 87.2,159.98 89.53,143.03 89.85,158.67 92.18,143.18 92.5,159.07 94.83,143.33 95.15,158.99 97.48,141.9 97.8,158.28 100.13,141.92 100.45,158.22 102.78,141.83 103.1,157.54 105.43,140.11 105.75,157.7 108.08,140.06 108.4,158.29 110.73,135.52 111.05,151.46 113.38,137.35 113.7,153.41 116.03,137.4 116.35,153.97 118.68,138.75 119,152 121.33,138.07 121.65,153.2 123.98,137.55 124.3,153.6 126.63,136.66 126.95,152.58 129.28,136.49 129.6,152.52 131.93,136.9 132.25,152.08 134.58,136.15 134.9,153.56 137.23,136.74 137.55,153.47 139.88,135.37 140.2,152.71 142.53,136.21 142.85,153.79 145.18,136.5 145.5,157.98 147.83,137.51 148.15,160.43 150.48,138.33 150.8,163.27 153.13,138.65 153.45,164.46 155.78,134.34 156.1,164.11 158.43,136.36 158.75,164.31 161.08,137.98 161.4,164.49 163.73,137.69 164.05,164.33 166.38,137.24 166.7,164.48 169.03,136.87 169.35,162.05 171.68,137.56 172,163.47 174.33,135.53 174.65,163.14 176.98,135.47 177.3,164.64 179.63,136.17 179.95,161.97 182.28,135.93 182.6,162.68 184.93,136.62 185.25,162.11 187.58,133.44 187.9,162.78 190.23,134.5 190.55,162.34 192.88,132.98 193.2,162.82 195.53,135.38 195.85,161.08 198.18,134.76 198.5,161.91 200.83,131.1 201.15,160.81 203.48,130.81 203.8,161.27 206.13,132.11 206.45,160.09 208.78,132.48 209.1,160.14 211.43,130.7 211.75,161.92 214.08,131.68 214.4,160.07 216.73,132.13 217.05,159.41 219.38,130.91 219.7,160.15 222.03,131.47 222.35,160.55 224.68,132.59 225,160.17 227.33,132.12 227.65,160.92 229.98,130.98 230.3,160.66 232.63,131.05 232.95,161.24 235.28,132 235.6,160.51 237.93,130.71 238.25,160.58 240.58,131.08 240.9,160.99 243.23,126.03 243.55,158.85 245.88,129.05 246.2,159.5 248.53,128.74 248.85,159.7 251.18,129.58 251.5,158.58 253.83,129.77 254.15,158.22 256.48,129.26 256.8,158.6 259.13,130.53 259.45,159.72 261.78,129.16 262.1,159.75 264.43,129.2 264.75,158.85 267.08,129.74 267.4,158.75 269.73,130.7 270.05,158.67 272.38,127.99 272.7,159.26 275.03,128.34 275.35,157.99 277.68,126.34 278,158.76 280.33,128.81 280.65,158.47 282.98,128.72 283.3,158.94 285.63,127.81 285.95,158.27 288.28,122.91 288.6,156.47 290.93,125.46 291.25,156.6 293.58,124.43 293.9,156.21 296.23,125.58 296.55,155.28 298.88,126.04 299.2,155.66 301.53,124.66 301.85,155.26 304.18,127.02 304.5,155.07 306.83,125.96 307.15,156.64 309.48,126.27 309.8,155.45 312.13,125.62 312.45,156.5 314.78,126.43 315.1,156.04 317.43,125.08 317.75,157.28 320.08,126.69 320.4,156.93 322.73,125.51 323.05,157.05 325.38,126.04 325.7,157.44 328.03,125.11 328.35,157.02 330.68,121.5 331,157.68 333.33,123.64 333.65,158.08 335.98,124.37 336.3,158.12 338.63,124.55 338.95,157.63 341.28,126.44 341.6,157.8 343.93,127.18 344.25,156.76 346.58,125.66 346.9,157.77 349.23,127.32 349.55,159.08 351.88,127.72 352.2,156.99 354.53,128.13 354.85,157.01 357.18,126.82 357.5,159.43 359.83,128.37 360.15,158.1 362.48,128.82 362.8,158.87 365.13,128.91 365.45,158.45 367.78,128.28 368.1,156.63 370.43,130.29 370.75,158.63 372.4,129.86" fill="none" stroke="#ec2a2a" stroke-width="1.0" stroke-opacity="0.92" stroke-linejoin="miter"/>
<rect x="110.4" y="147.86" width="1.0" height="6.26" fill="#fff"/>
<rect x="154.9" y="155.48" width="1.0" height="10.02" fill="#fff"/>
<rect x="199" y="151.47" width="1.0" height="10.53" fill="#fff"/>
<rect x="242.9" y="150.16" width="1.0" height="10.79" fill="#fff"/>
<rect x="286.7" y="147.37" width="1.0" height="11.07" fill="#fff"/>
<rect x="330.6" y="148.18" width="1.0" height="11.76" fill="#fff"/>
<path d="M109.6,143 L110,135.8 L111.2,137.3 L112.1,143 Z" fill="#ec2a2a" fill-opacity="0.8"/>
<path d="M154,140 L154.4,129.9 L155.6,131.4 L156.5,140 Z" fill="#ec2a2a" fill-opacity="0.8"/>
<path d="M198.1,135 L198.5,123.8 L199.7,125.3 L200.6,135 Z" fill="#ec2a2a" fill-opacity="0.8"/>
<path d="M242,133 L242.4,122.4 L243.6,123.9 L244.5,133 Z" fill="#ec2a2a" fill-opacity="0.8"/>
<path d="M285.7,129 L286.1,120.4 L287.3,121.9 L288.2,129 Z" fill="#ec2a2a" fill-opacity="0.8"/>
<path d="M329.7,128 L330.1,117.6 L331.3,119.1 L332.2,128 Z" fill="#ec2a2a" fill-opacity="0.8"/>
<polygon points="44.8,205.49 45.5,205.41 46.2,204.93 46.9,205.99 47.6,205.49 48.3,205.36 49,205.25 49.7,205.53 50.4,205.2 51.1,205.27 51.8,204.26 52.5,205.05 53.2,205.83 53.9,204.43 54.6,204.57 55.3,205.03 56,205.01 56.7,204.79 57.4,203.61 58.1,204.62 58.8,203.72 59.5,203.85 60.2,204.48 60.9,204.01 61.6,204.51 62.3,205.62 63,204.38 63.7,204.3 64.4,203.44 65.1,203.52 65.8,203.25 66.5,203.46 67.2,201.53 67.9,200.67 68.6,200.89 69.3,200.49 70,200.27 70.7,200.3 71.4,201.2 72.1,201 72.8,201.48 73.5,201.48 74.2,200.78 74.9,201.28 75.6,200.22 76.3,202.08 77,201.53 77.7,200.82 78.4,200.34 79.1,201.11 79.8,199.98 80.5,200.52 81.2,201.28 81.9,200.94 82.6,200.65 83.3,201.37 84,200.37 84.7,201.02 85.4,200.63 86.1,200.45 86.8,201.1 87.5,200.36 88.2,201.81 88.9,200.56 89.6,201.84 90.3,200.3 91,201.14 91.7,200.23 92.4,200.16 93.1,200.9 93.8,201.16 94.5,200.18 95.2,201.4 95.9,200.4 96.6,200.86 97.3,200.98 98,201.09 98.7,199.89 99.4,201.59 100.1,201.06 100.8,200.56 101.5,200.25 102.2,199.91 102.9,200.07 103.6,201.02 104.3,200.57 105,200.17 105.7,200.47 106.4,201.51 107.1,200.56 107.8,200.43 108.5,201.39 109.2,200.94 109.9,200.73 110.6,200.4 111.3,198.52 112,198.04 112.7,198.43 113.4,198.6 114.1,198.93 114.8,199.06 115.5,198.94 116.2,198.98 116.9,198.41 117.6,197.87 118.3,198.73 119,198.55 119.7,198.74 120.4,198.97 121.1,198.53 121.8,198.63 122.5,199.18 123.2,199.33 123.9,198.98 124.6,199.6 125.3,199.28 126,198.92 126.7,199.49 127.4,200.45 128.1,199.21 128.8,200.17 129.5,200.32 130.2,200.42 130.9,199.3 131.6,200.76 132.3,199.85 133,199.7 133.7,199.76 134.4,200.21 135.1,199.98 135.8,199.9 136.5,200.67 137.2,199.71 137.9,199.59 138.6,200.55 139.3,200.54 140,200.78 140.7,199.74 141.4,200.85 142.1,200.59 142.8,201.27 143.5,199.81 144.2,200.58 144.9,200.37 145.6,199.76 146.3,200.24 147,201.2 147.7,200.44 148.4,200.35 149.1,201.19 149.8,201.29 150.5,201.33 151.2,200.48 151.9,200.89 152.6,201.47 153.3,200.67 154,200.63 154.7,201.41 155.4,201.55 156.1,199.71 156.8,198.94 157.5,199.47 158.2,199.64 158.9,200.04 159.6,200.37 160.3,199.95 161,199.63 161.7,200.01 162.4,199.41 163.1,199.82 163.8,199.48 164.5,201.1 165.2,200.12 165.9,199.25 166.6,199.13 167.3,199.37 168,198.72 168.7,199.13 169.4,199.08 170.1,199.85 170.8,199.15 171.5,198.93 172.2,198.61 172.9,198.65 173.6,199.16 174.3,199.04 175,199.67 175.7,198.75 176.4,199.55 177.1,199.1 177.8,198.93 178.5,197.88 179.2,198.2 179.9,199.17 180.6,199.46 181.3,198.82 182,199.05 182.7,198.42 183.4,198.4 184.1,198.21 184.8,198.98 185.5,198.62 186.2,198.29 186.9,198.2 187.6,198.6 188.3,198.44 189,197.82 189.7,199.05 190.4,198.28 191.1,198.11 191.8,198.8 192.5,198.53 193.2,197.93 193.9,198.2 194.6,197.35 195.3,197.52 196,196.67 196.7,198.37 197.4,196.76 198.1,198.29 198.8,197.88 199.5,198.46 200.2,199.27 200.9,199.44 201.6,199.55 202.3,200.07 203,199.31 203.7,199.51 204.4,198.71 205.1,199.31 205.8,198.97 206.5,198.6 207.2,198.72 207.9,198.68 208.6,198.75 209.3,198.79 210,198.28 210.7,198.1 211.4,198.79 212.1,197.5 212.8,197.98 213.5,199.01 214.2,196.82 214.9,197.77 215.6,198.4 216.3,197.17 217,199.23 217.7,196.58 218.4,198.53 219.1,198.53 219.8,198.15 220.5,197.53 221.2,197.75 221.9,197.07 222.6,197.86 223.3,196.84 224,197.2 224.7,197.78 225.4,196.66 226.1,196.98 226.8,197.18 227.5,196.37 228.2,197.56 228.9,197.09 229.6,196.1 230.3,196.78 231,196.35 231.7,196.35 232.4,196.66 233.1,196.21 233.8,196.98 234.5,196.09 235.2,196.9 235.9,196.42 236.6,196.91 237.3,196.25 238,196.3 238.7,196.01 239.4,196.91 240.1,197.13 240.8,197.76 241.5,197.38 242.2,196.89 242.9,197.33 243.6,200.8 244.3,200.62 245,201.39 245.7,201.16 246.4,200.29 247.1,200.39 247.8,201.44 248.5,200.94 249.2,200.69 249.9,201.43 250.6,200.67 251.3,200.75 252,200.68 252.7,199.96 253.4,201.39 254.1,200.38 254.8,200.73 255.5,200.67 256.2,201.43 256.9,201.05 257.6,201.12 258.3,200.3 259,201.12 259.7,200.45 260.4,201.39 261.1,201.47 261.8,201.34 262.5,202.42 263.2,201.72 263.9,201.81 264.6,201.64 265.3,201.53 266,202.16 266.7,202.29 267.4,201.14 268.1,202.38 268.8,202.16 269.5,202.44 270.2,202.28 270.9,201.57 271.6,201.76 272.3,203.41 273,202.77 273.7,202.09 274.4,203.13 275.1,202.92 275.8,202.33 276.5,202.26 277.2,202.76 277.9,203.84 278.6,203.84 279.3,203.89 280,204.3 280.7,204.61 281.4,203.41 282.1,204.47 282.8,204.35 283.5,204.3 284.2,204.8 284.9,205.22 285.6,205.75 286.3,205.76 287,207.53 287.7,213.42 288.4,211.96 289.1,211.73 289.8,212.79 290.5,213.03 291.2,213.04 291.9,212.33 292.6,213.46 293.3,212.65 294,212.56 294.7,212.9 295.4,213.23 296.1,213.72 296.8,213.75 297.5,213.51 298.2,214.06 298.9,213.72 299.6,214.2 300.3,213.15 301,213.18 301.7,214.48 302.4,213.52 303.1,214.18 303.8,214.4 304.5,214.33 305.2,214.46 305.9,215.51 306.6,213.67 307.3,215.49 308,216.32 308.7,215.3 309.4,215.4 310.1,215.89 310.8,216.56 311.5,215.18 312.2,215.93 312.9,215.92 313.6,216.41 314.3,216.33 315,216.7 315.7,216.28 316.4,216.63 317.1,216.39 317.8,216.52 318.5,216.9 319.2,217.02 319.9,216.62 320.6,218.11 321.3,217.38 322,216.88 322.7,218.24 323.4,217.43 324.1,218.18 324.8,218.04 325.5,218.29 326.2,218.37 326.9,218.12 327.6,218.55 328.3,219.67 329,218.13 329.7,220.25 330.4,221.39 331.1,221.9 331.8,224.32 332.5,226.14 333.2,224.93 333.9,226.2 334.6,225.49 335.3,225.31 336,225.56 336.7,225.69 337.4,226.02 338.1,225.7 338.8,225.61 339.5,225.67 340.2,226.32 340.9,226.1 341.6,225.24 342.3,225.48 343,226.01 343.7,225.59 344.4,225.77 345.1,225.53 345.8,225.91 346.5,226.29 347.2,226.61 347.9,226.15 348.6,227.22 349.3,226.18 350,227.85 350.7,226.79 351.4,226.58 352.1,226.11 352.8,224.99 353.5,226.36 354.2,226.56 354.9,227.47 355.6,225.85 356.3,227.53 357,226.49 357.7,227.01 358.4,225.41 359.1,226.79 359.8,226.58 360.5,227.13 361.2,226.87 361.9,226.29 362.6,227.37 363.3,227.28 364,227.27 364.7,227.51 365.4,227.59 366.1,227.07 366.8,226.44 367.5,226.46 368.2,227.86 368.9,227.58 369.6,227.31 370.3,227.08 371,227.34 371.7,227.38 372.4,227.23 372.4,243.19 371.7,242.5 371,242.76 370.3,244 369.6,242.56 368.9,241.48 368.2,242.91 367.5,241.8 366.8,242.01 366.1,241.62 365.4,241.95 364.7,241.98 364,241.83 363.3,241.81 362.6,241.4 361.9,241.1 361.2,241.07 360.5,241.29 359.8,241.18 359.1,240.84 358.4,241.26 357.7,240.12 357,239.58 356.3,239.99 355.6,239.95 354.9,240.61 354.2,239.84 353.5,240.21 352.8,239.32 352.1,238.72 351.4,238.71 350.7,239.16 350,238.64 349.3,238.33 348.6,238.74 347.9,238.52 347.2,238.78 346.5,237.94 345.8,237.94 345.1,237.89 344.4,237.96 343.7,237.61 343,236.54 342.3,236.93 341.6,237.42 340.9,237.49 340.2,237.1 339.5,236.46 338.8,236.79 338.1,236.64 337.4,235.87 336.7,235.88 336,236.52 335.3,236.34 334.6,236.42 333.9,234.94 333.2,235.12 332.5,234.67 331.8,235.86 331.1,233.95 330.4,232.22 329.7,230.43 329,230.04 328.3,229.14 327.6,228.47 326.9,228.88 326.2,229.08 325.5,228.77 324.8,229.62 324.1,228.38 323.4,227.68 322.7,228.71 322,227.75 321.3,227.94 320.6,227.66 319.9,228.22 319.2,227.96 318.5,226.64 317.8,227.4 317.1,227.45 316.4,226.28 315.7,227.13 315,227.02 314.3,227.96 313.6,227.44 312.9,226.74 312.2,226.82 311.5,226.69 310.8,226.09 310.1,226.64 309.4,226.68 308.7,226.08 308,226.35 307.3,225.75 306.6,226.15 305.9,226.32 305.2,225.79 304.5,225.88 303.8,224.66 303.1,225 302.4,224.32 301.7,224.95 301,224.75 300.3,225.25 299.6,225.1 298.9,224.48 298.2,225.11 297.5,223.79 296.8,224.68 296.1,224.5 295.4,224.14 294.7,222.89 294,222.91 293.3,223.44 292.6,223.59 291.9,223.61 291.2,222.81 290.5,222.83 289.8,223.37 289.1,223.44 288.4,222.63 287.7,222.77 287,219.66 286.3,218.93 285.6,218.2 284.9,218.04 284.2,218.37 283.5,217.54 282.8,217.37 282.1,217.01 281.4,217.48 280.7,216.99 280,216.96 279.3,216.78 278.6,216.87 277.9,216.77 277.2,216.72 276.5,215.94 275.8,216.34 275.1,217.31 274.4,215.86 273.7,215.16 273,216.84 272.3,216.76 271.6,215.7 270.9,215.64 270.2,215.71 269.5,216.24 268.8,215.54 268.1,216.33 267.4,214.46 266.7,215.37 266,216.26 265.3,215.95 264.6,214.64 263.9,214.93 263.2,216.17 262.5,215.54 261.8,214.97 261.1,214.69 260.4,215.58 259.7,215.32 259,213.81 258.3,215.82 257.6,214.48 256.9,214.5 256.2,213.94 255.5,213.7 254.8,214.84 254.1,213.58 253.4,213.5 252.7,213.76 252,213.69 251.3,214.32 250.6,213.39 249.9,212.88 249.2,212.93 248.5,212.59 247.8,213.1 247.1,212.39 246.4,212.66 245.7,212.02 245,211.14 244.3,211.62 243.6,211.8 242.9,210.31 242.2,211.62 241.5,209.96 240.8,210.3 240.1,209.81 239.4,211.4 238.7,210.05 238,210.96 237.3,209.79 236.6,211.27 235.9,210.84 235.2,210.9 234.5,210.7 233.8,211.14 233.1,210.39 232.4,211.38 231.7,210.88 231,211.45 230.3,210.98 229.6,211.21 228.9,210.6 228.2,211.31 227.5,210.49 226.8,211.07 226.1,210.92 225.4,211.08 224.7,211.28 224,211.71 223.3,210.98 222.6,211.32 221.9,210.94 221.2,212.23 220.5,211.94 219.8,210.78 219.1,211.26 218.4,211.02 217.7,211.35 217,211.19 216.3,210.73 215.6,211.45 214.9,211.52 214.2,211.84 213.5,211.92 212.8,211.59 212.1,211.44 211.4,211.61 210.7,210.82 210,211.48 209.3,211.79 208.6,211.45 207.9,211.05 207.2,212.71 206.5,211.72 205.8,211.5 205.1,211.03 204.4,212.01 203.7,211.55 203,211.08 202.3,212.73 201.6,211.35 200.9,211.71 200.2,212.22 199.5,211.4 198.8,211.12 198.1,211.77 197.4,209.93 196.7,211.12 196,211.02 195.3,210.41 194.6,210.63 193.9,211.13 193.2,210.55 192.5,210.7 191.8,210.66 191.1,211.18 190.4,211.33 189.7,211.29 189,211.83 188.3,211.29 187.6,211.48 186.9,211.47 186.2,211.45 185.5,211.32 184.8,212.1 184.1,211.47 183.4,211.59 182.7,211.68 182,211.79 181.3,211.8 180.6,210.97 179.9,212.77 179.2,212.21 178.5,211.77 177.8,211.68 177.1,211.96 176.4,211.66 175.7,211.68 175,212.99 174.3,212.05 173.6,211.89 172.9,212.38 172.2,212.57 171.5,211.87 170.8,212.08 170.1,211.5 169.4,212.35 168.7,212.84 168,212.8 167.3,213.41 166.6,212.39 165.9,212.71 165.2,212.3 164.5,213 163.8,213.57 163.1,213.55 162.4,212.48 161.7,212.73 161,212.52 160.3,212.42 159.6,212.84 158.9,213.72 158.2,213.21 157.5,213.96 156.8,213.02 156.1,213.72 155.4,214.12 154.7,216.39 154,215.78 153.3,216.2 152.6,215.58 151.9,215 151.2,216.02 150.5,216.55 149.8,216.45 149.1,215.45 148.4,215.58 147.7,216.5 147,215.56 146.3,215.71 145.6,215.71 144.9,215.85 144.2,214.98 143.5,215.22 142.8,215.29 142.1,216.06 141.4,215.42 140.7,215.87 140,216.37 139.3,215.44 138.6,216.18 137.9,215.34 137.2,216.07 136.5,216.12 135.8,215.2 135.1,214.78 134.4,215.02 133.7,215.71 133,215.39 132.3,215.77 131.6,215.49 130.9,214.53 130.2,215.31 129.5,214.94 128.8,215.04 128.1,214.76 127.4,215.45 126.7,215.91 126,215.8 125.3,215.29 124.6,214.74 123.9,214.65 123.2,214.9 122.5,215.87 121.8,214.75 121.1,215.29 120.4,215.52 119.7,215.19 119,214.14 118.3,215.28 117.6,215.19 116.9,214.59 116.2,214.93 115.5,214.66 114.8,215.03 114.1,215.31 113.4,215.92 112.7,215.19 112,215.24 111.3,215.45 110.6,215.63 109.9,215.19 109.2,215.34 108.5,215.85 107.8,215.05 107.1,215.32 106.4,215.29 105.7,215.42 105,215.65 104.3,214.69 103.6,216.41 102.9,216.09 102.2,215.33 101.5,215.22 100.8,215.8 100.1,214.5 99.4,214.89 98.7,215.12 98,215.22 97.3,216.59 96.6,215.54 95.9,214.96 95.2,215.79 94.5,215.67 93.8,215.46 93.1,215.48 92.4,215.8 91.7,215.76 91,216.24 90.3,215.41 89.6,215.92 88.9,215.03 88.2,215.42 87.5,214.78 86.8,215.39 86.1,215.78 85.4,215.83 84.7,216.37 84,215.57 83.3,215.78 82.6,215.23 81.9,215.48 81.2,215.51 80.5,215.48 79.8,216.63 79.1,215.42 78.4,216.18 77.7,215.92 77,215.21 76.3,215.78 75.6,215.64 74.9,215.44 74.2,216.26 73.5,216.44 72.8,216.22 72.1,215.83 71.4,216.61 70.7,216.06 70,216.23 69.3,215.36 68.6,215.17 67.9,215.73 67.2,216.84 66.5,217.74 65.8,218.2 65.1,218.04 64.4,217.66 63.7,217.83 63,218 62.3,218.36 61.6,218.39 60.9,217.87 60.2,218.11 59.5,218.01 58.8,217.51 58.1,217.32 57.4,217.92 56.7,218.51 56,218.02 55.3,217.74 54.6,219.38 53.9,218.35 53.2,218.84 52.5,217.66 51.8,218.09 51.1,218.29 50.4,218.18 49.7,218.69 49,218.7 48.3,218 47.6,217.74 46.9,218.11 46.2,218.55 45.5,219.55 44.8,218.14" fill="#a65aab" fill-opacity="0.92"/>
<polyline points="44.8,219.26 46.74,205.13 47,218.78 48.94,205.12 49.2,218.11 51.14,206.79 51.4,218.3 53.34,204.41 53.6,217.88 55.54,204.79 55.8,218.34 57.74,204.86 58,218.1 59.94,203.37 60.2,218.26 62.14,203.88 62.4,217.69 64.34,203 64.6,217.44 66.54,203.29 66.8,217.68 68.74,200.12 69,215.9 70.94,201.05 71.2,215.15 73.14,200.59 73.4,215.26 75.34,201.49 75.6,214.21 77.54,200.72 77.8,214.69 79.74,200.66 80,216.15 81.94,200.52 82.2,215.68 84.14,200.38 84.4,216.71 86.34,201.42 86.6,216.18 88.54,200.06 88.8,214.8 90.74,201.49 91,215.3 92.94,200.67 93.2,215.57 95.14,200.06 95.4,215.78 97.34,200.8 97.6,215.56 99.54,200.38 99.8,215.54 101.74,200.34 102,215.76 103.94,201.43 104.2,215.69 106.14,201.04 106.4,215.47 108.34,199.09 108.6,215.55 110.54,200.54 110.8,215.06 112.74,198.5 113,214.2 114.94,198.47 115.2,215.47 117.14,199.77 117.4,214.75 119.34,198.51 119.6,216.05 121.54,198.65 121.8,216.47 123.74,199.33 124,214.74 125.94,200.02 126.2,216.33 128.14,198.69 128.4,216.3 130.34,199.51 130.6,216.3 132.54,199.58 132.8,214.51 134.74,200.23 135,216.06 136.94,201.31 137.2,216.59 139.14,200.6 139.4,215.46 141.34,200 141.6,215.47 143.54,199.94 143.8,215.53 145.74,199.03 146,215.85 147.94,200.67 148.2,217.33 150.14,201.27 150.4,215.55 152.34,201.28 152.6,215.15 154.54,200.64 154.8,214.47 156.74,201.1 157,213.68 158.94,199.4 159.2,213.15 161.14,200.54 161.4,213.35 163.34,200.06 163.6,212.4 165.54,199.31 165.8,212.84 167.74,200.11 168,212.14 169.94,198.75 170.2,213.19 172.14,198.73 172.4,213.01 174.34,199.29 174.6,212.76 176.54,200.06 176.8,212.51 178.74,199.34 179,211.41 180.94,198.32 181.2,212.21 183.14,199.52 183.4,212.52 185.34,199.85 185.6,211.73 187.54,198.45 187.8,212.01 189.74,198.2 190,211.24 191.94,197.42 192.2,211.73 194.14,197.27 194.4,211.31 196.34,196.93 196.6,211.52 198.54,197.55 198.8,211.61 200.74,198.37 201,211.41 202.94,199.84 203.2,211.13 205.14,198.99 205.4,211.27 207.34,197.37 207.6,211.69 209.54,198.83 209.8,210.78 211.74,198.73 212,210.91 213.94,197.59 214.2,211.34 216.14,197.6 216.4,212.65 218.34,196.89 218.6,211.66 220.54,198.23 220.8,209.98 222.74,196.41 223,211.44 224.94,196.97 225.2,211.28 227.14,197.75 227.4,210.77 229.34,196.24 229.6,209.3 231.54,196.82 231.8,210.32 233.74,196.7 234,210.96 235.94,195.62 236.2,211.83 238.14,197.21 238.4,211.31 240.34,195.96 240.6,210.56 242.54,196.46 242.8,210.55 244.74,199.97 245,212.3 246.94,200.87 247.2,212.72 249.14,200.5 249.4,213.74 251.34,201 251.6,211.79 253.54,200.58 253.8,213.86 255.74,201.63 256,214.18 257.94,200.98 258.2,214.42 260.14,201.61 260.4,214.95 262.34,201.02 262.6,214.88 264.54,201.9 264.8,215.12 266.74,200.73 267,215.92 268.94,201.49 269.2,215.87 271.14,202.47 271.4,216.62 273.34,203.35 273.6,215.87 275.54,203.1 275.8,215.75 277.74,204.68 278,217.1 279.94,204.98 280.2,216.96 282.14,203.39 282.4,218.38 284.34,205.16 284.6,217.85 286.54,206.72 286.8,219.33 288.74,212.85 289,221.56 290.94,213.43 291.2,222.7 293.14,212.74 293.4,224.55 295.34,213.83 295.6,223.8 297.54,212.41 297.8,224.6 299.74,214.09 300,224.95 301.94,213.38 302.2,224.85 304.14,213.76 304.4,225.78 306.34,215.38 306.6,226.58 308.54,214.82 308.8,226.43 310.74,215.97 311,226.31 312.94,215.93 313.2,228.21 315.14,216.52 315.4,227.79 317.34,216.51 317.6,227.61 319.54,216.12 319.8,227.89 321.74,218.24 322,229.49 323.94,218.62 324.2,228.97 326.14,218.31 326.4,228.52 328.34,218.56 328.6,229.57 330.54,220.89 330.8,233.24 332.74,224.49 333,234.5 334.94,224.64 335.2,235.01 337.14,224.59 337.4,237.14 339.34,225.45 339.6,237.03 341.54,226.43 341.8,238.11 343.74,225.6 344,238.59 345.94,226.28 346.2,238.23 348.14,226.43 348.4,237.79 350.34,225.8 350.6,239 352.54,226.75 352.8,239.26 354.74,226.42 355,240.48 356.94,227.46 357.2,240.78 359.14,227.48 359.4,240.49 361.34,226.65 361.6,241.34 363.54,226.77 363.8,241.26 365.74,228.05 366,241.86 367.94,226.59 368.2,242.7 370.14,228.39 370.4,242.87 372.34,228.14" fill="none" stroke="#a65aab" stroke-width="0.8" stroke-opacity="0.9" stroke-linejoin="miter"/>
<rect x="66.9" y="209.19" width="1.4" height="8.2" fill="#fff"/>
<rect x="110.9" y="207.62" width="1.4" height="8.88" fill="#fff"/>
<rect x="155.1" y="207.5" width="1.4" height="7.4" fill="#fff"/>
<rect x="199" y="206.05" width="1.4" height="7.06" fill="#fff"/>
<rect x="242.8" y="206.72" width="1.4" height="6.5" fill="#fff"/>
<rect x="286.8" y="217.19" width="1.4" height="6.05" fill="#fff"/>
<line x1="67.2" y1="203" x2="67.2" y2="193.1" stroke="#a65aab" stroke-width="1.1" />
<line x1="111.3" y1="201" x2="111.3" y2="182.6" stroke="#a65aab" stroke-width="1.1" />
<line x1="155.5" y1="201" x2="155.5" y2="178" stroke="#a65aab" stroke-width="1.1" />
<line x1="199.4" y1="199" x2="199.4" y2="167.9" stroke="#a65aab" stroke-width="1.1" />
<line x1="243.2" y1="199" x2="243.2" y2="163.9" stroke="#a65aab" stroke-width="1.1" />
<line x1="287.2" y1="210" x2="287.2" y2="173.1" stroke="#a65aab" stroke-width="1.1" />
<line x1="331.3" y1="225" x2="331.3" y2="191.5" stroke="#a65aab" stroke-width="1.1" />
<line x1="153.9" y1="214" x2="153.9" y2="221.7" stroke="#a65aab" stroke-width="1.1" />
<line x1="197.6" y1="209" x2="197.6" y2="214" stroke="#a65aab" stroke-width="1.1" />
<line x1="241.6" y1="209" x2="241.6" y2="214.5" stroke="#a65aab" stroke-width="1.1" />
<line x1="285.4" y1="216" x2="285.4" y2="225.2" stroke="#a65aab" stroke-width="1.1" />
<line x1="329.2" y1="228" x2="329.2" y2="255" stroke="#a65aab" stroke-width="1.1" />
<polygon points="44.8,280.72 45.5,280.68 46.2,280.58 46.9,280.78 47.6,281.55 48.3,280.33 49,281.43 49.7,280.35 50.4,280.64 51.1,281.05 51.8,280.95 52.5,280.79 53.2,280 53.9,280.79 54.6,280.21 55.3,281.63 56,280.5 56.7,280.64 57.4,280.09 58.1,280.34 58.8,279.99 59.5,280.88 60.2,280.37 60.9,280.68 61.6,280.16 62.3,280.21 63,280.91 63.7,279.99 64.4,279.63 65.1,280.5 65.8,279.86 66.5,280.02 67.2,279.86 67.9,278.17 68.6,278.83 69.3,278.19 70,279.04 70.7,278.96 71.4,278.22 72.1,278.31 72.8,278.05 73.5,278.44 74.2,278.8 74.9,277.75 75.6,278.68 76.3,277.76 77,277.93 77.7,277.54 78.4,279.08 79.1,278.24 79.8,278.3 80.5,277.92 81.2,278.6 81.9,277.31 82.6,278.14 83.3,279 84,277.95 84.7,278.09 85.4,278.33 86.1,277.72 86.8,278.04 87.5,278.4 88.2,277.96 88.9,277.61 89.6,276.9 90.3,276.89 91,276.71 91.7,277.19 92.4,276.82 93.1,276.36 93.8,275.4 94.5,276.59 95.2,276.53 95.9,275.78 96.6,275.27 97.3,275.54 98,276.29 98.7,275.41 99.4,275.58 100.1,275.77 100.8,276.1 101.5,275.52 102.2,275.41 102.9,275.15 103.6,275.95 104.3,275.65 105,275.1 105.7,274.51 106.4,274.67 107.1,275.14 107.8,274.54 108.5,275.11 109.2,274.82 109.9,274.72 110.6,274.78 111.3,271.76 112,269.41 112.7,269.55 113.4,270.54 114.1,269.04 114.8,269.25 115.5,269.79 116.2,269.22 116.9,268.88 117.6,268.6 118.3,269.27 119,269.38 119.7,269.46 120.4,268.84 121.1,269.16 121.8,268.25 122.5,268.65 123.2,268.24 123.9,268.5 124.6,268.65 125.3,268.7 126,267.8 126.7,268.63 127.4,267.85 128.1,267.55 128.8,267.82 129.5,267.22 130.2,267.73 130.9,267.77 131.6,267.49 132.3,267.71 133,267.29 133.7,267.34 134.4,266.68 135.1,267.2 135.8,266.76 136.5,266.85 137.2,266.91 137.9,266.95 138.6,266.13 139.3,266.09 140,266.52 140.7,266.75 141.4,266.63 142.1,266.76 142.8,266.85 143.5,266.45 144.2,266.16 144.9,265.68 145.6,265.64 146.3,265.75 147,265.96 147.7,265.87 148.4,265.7 149.1,265.56 149.8,265.8 150.5,265.55 151.2,265.51 151.9,265.44 152.6,265.02 153.3,264.74 154,265.27 154.7,265.17 155.4,261.6 156.1,259.64 156.8,260.73 157.5,259.53 158.2,259.76 158.9,259.97 159.6,259.42 160.3,259.94 161,260.63 161.7,260.3 162.4,260.19 163.1,260.19 163.8,260.01 164.5,260.37 165.2,259.94 165.9,259.84 166.6,260.07 167.3,260.4 168,260.19 168.7,260.34 169.4,259.28 170.1,260.58 170.8,261.05 171.5,260.66 172.2,260.02 172.9,259.82 173.6,260.29 174.3,259.8 175,260.49 175.7,260.01 176.4,260.62 177.1,260.79 177.8,259.45 178.5,260.4 179.2,260.01 179.9,259.74 180.6,260.08 181.3,260.25 182,260.77 182.7,259.76 183.4,260.8 184.1,261.2 184.8,260.65 185.5,260.64 186.2,260.44 186.9,259.99 187.6,260.68 188.3,260.64 189,260.79 189.7,261.54 190.4,260.82 191.1,260.71 191.8,261.18 192.5,260.04 193.2,260.13 193.9,260.45 194.6,260.36 195.3,260.91 196,260.52 196.7,261.36 197.4,261.28 198.1,261 198.8,258.39 199.5,253.75 200.2,254.29 200.9,254.01 201.6,254.91 202.3,255.37 203,255.49 203.7,256.34 204.4,256.52 205.1,256.02 205.8,256.72 206.5,256.65 207.2,257.54 207.9,257.28 208.6,258.32 209.3,258.42 210,258.97 210.7,258.85 211.4,258.64 212.1,260.24 212.8,259.68 213.5,260.52 214.2,260.36 214.9,260.68 215.6,261.36 216.3,260.98 217,261.62 217.7,260.69 218.4,261.85 219.1,261.62 219.8,261.88 220.5,262 221.2,262.14 221.9,262.66 222.6,261.26 223.3,262.02 224,261.71 224.7,262.47 225.4,261.83 226.1,262.18 226.8,261.84 227.5,262.27 228.2,262.41 228.9,261.84 229.6,262.02 230.3,261.43 231,262.11 231.7,262.33 232.4,261.76 233.1,262.42 233.8,261.14 234.5,261.22 235.2,261.4 235.9,261.76 236.6,261.95 237.3,261.91 238,261.91 238.7,262.22 239.4,261.74 240.1,261.41 240.8,261.42 241.5,262.75 242.2,260.96 242.9,259.94 243.6,259.47 244.3,259.99 245,260.37 245.7,260.75 246.4,261.14 247.1,261.33 247.8,260.53 248.5,261.24 249.2,261.09 249.9,261.47 250.6,261.64 251.3,260.99 252,260.6 252.7,261.38 253.4,261.98 254.1,261.59 254.8,261.46 255.5,262.37 256.2,261.05 256.9,261.87 257.6,261.33 258.3,261.62 259,261.69 259.7,262.31 260.4,261.37 261.1,261.58 261.8,261.21 262.5,262.08 263.2,261.75 263.9,262.15 264.6,261.6 265.3,261.94 266,262.54 266.7,262.11 267.4,262.47 268.1,262.48 268.8,262.18 269.5,261.74 270.2,262.82 270.9,262.59 271.6,263 272.3,261.89 273,262.13 273.7,262.02 274.4,262.62 275.1,263.48 275.8,263.38 276.5,263.23 277.2,263.39 277.9,263.73 278.6,263.4 279.3,263.77 280,263.76 280.7,262.89 281.4,263.67 282.1,264.43 282.8,263.79 283.5,263.96 284.2,263.83 284.9,263.94 285.6,264.65 286.3,265.88 287,266.09 287.7,265.02 288.4,265.19 289.1,263.79 289.8,263.01 290.5,263.5 291.2,263.02 291.9,261.53 292.6,262.19 293.3,261.73 294,261.1 294.7,261.58 295.4,260.5 296.1,260.54 296.8,260.32 297.5,260.32 298.2,260.99 298.9,259.97 299.6,259.91 300.3,259.94 301,260.45 301.7,260.28 302.4,260.81 303.1,260.23 303.8,260.05 304.5,260.41 305.2,260.68 305.9,260.34 306.6,260.87 307.3,261.54 308,260.62 308.7,260.92 309.4,261.49 310.1,260.74 310.8,260.71 311.5,260.66 312.2,261.31 312.9,261.4 313.6,261.19 314.3,261.31 315,261.85 315.7,261.74 316.4,260.88 317.1,261.48 317.8,261.58 318.5,261.87 319.2,261.54 319.9,261.42 320.6,261.55 321.3,261.07 322,261.82 322.7,261.64 323.4,262.11 324.1,261.56 324.8,261.85 325.5,261.68 326.2,261.69 326.9,262.45 327.6,262.03 328.3,262.44 329,265.92 329.7,272.31 330.4,270.1 331.1,269.14 331.8,268.08 332.5,267.47 333.2,266.1 333.9,264.34 334.6,263.14 335.3,261.27 336,259.8 336.7,259.75 337.4,259.28 338.1,259.05 338.8,259.15 339.5,258.72 340.2,258.9 340.9,259.05 341.6,258.8 342.3,258.17 343,257.67 343.7,258.02 344.4,257.85 345.1,258.23 345.8,257.65 346.5,257.74 347.2,258.13 347.9,257.67 348.6,257.81 349.3,258.58 350,258.51 350.7,258.18 351.4,258.06 352.1,257.58 352.8,258.21 353.5,258.03 354.2,258.11 354.9,257.84 355.6,258.06 356.3,258.01 357,258.23 357.7,258.69 358.4,258.28 359.1,257.5 359.8,257.79 360.5,257.58 361.2,257.93 361.9,258.51 362.6,258.49 363.3,258.13 364,258.51 364.7,258.14 365.4,257.92 366.1,257.96 366.8,258.22 367.5,259.17 368.2,258.11 368.9,259.18 369.6,259.25 370.3,258.69 371,258.78 371.7,258.6 372.4,258.87 372.4,280.65 371.7,279.84 371,281.27 370.3,280.09 369.6,280.31 368.9,280.57 368.2,279.88 367.5,280.6 366.8,279.53 366.1,279.75 365.4,279.73 364.7,279.55 364,279.16 363.3,278.19 362.6,278.88 361.9,279.61 361.2,278.79 360.5,278.88 359.8,278.23 359.1,277.92 358.4,278.19 357.7,278.07 357,278.06 356.3,278.05 355.6,277.97 354.9,276.88 354.2,277.62 353.5,277.73 352.8,276.62 352.1,276.03 351.4,276.79 350.7,276.11 350,275.22 349.3,276.69 348.6,275.96 347.9,275.77 347.2,274.99 346.5,275.18 345.8,275.42 345.1,275.04 344.4,275.01 343.7,274.36 343,274.48 342.3,273.4 341.6,273.76 340.9,272.31 340.2,273 339.5,272.3 338.8,271.76 338.1,271.58 337.4,271.04 336.7,271.18 336,271.1 335.3,270.11 334.6,271.93 333.9,271.26 333.2,271.34 332.5,271.87 331.8,273.11 331.1,273.96 330.4,275.93 329.7,277.56 329,278.92 328.3,280.26 327.6,280.12 326.9,280.7 326.2,280.34 325.5,280.3 324.8,279.95 324.1,280.06 323.4,280.27 322.7,279.17 322,280.13 321.3,279.28 320.6,279.05 319.9,279.51 319.2,279.41 318.5,279.16 317.8,279.64 317.1,279.7 316.4,279.27 315.7,279.33 315,278.83 314.3,278.83 313.6,279.23 312.9,278.53 312.2,278.31 311.5,279.07 310.8,278.81 310.1,278.07 309.4,277.64 308.7,278.37 308,277.9 307.3,278.52 306.6,278 305.9,277.73 305.2,277.62 304.5,278.21 303.8,278.29 303.1,277.42 302.4,277.26 301.7,277.47 301,277.37 300.3,277.84 299.6,277.3 298.9,276.86 298.2,277.14 297.5,277.47 296.8,277.21 296.1,277.09 295.4,275.89 294.7,275.71 294,276.71 293.3,275.79 292.6,275.86 291.9,275.88 291.2,275.37 290.5,274.37 289.8,274.01 289.1,273.05 288.4,272.36 287.7,271.88 287,271.44 286.3,273.31 285.6,277.15 284.9,277.85 284.2,278.01 283.5,277.45 282.8,277.53 282.1,277.75 281.4,278.54 280.7,277.46 280,277.84 279.3,277.2 278.6,277.99 277.9,277.55 277.2,277.24 276.5,276.77 275.8,278.05 275.1,277.84 274.4,277.11 273.7,277.02 273,277.69 272.3,277.71 271.6,277.08 270.9,276.44 270.2,277.14 269.5,276.69 268.8,276.93 268.1,276.88 267.4,276.9 266.7,276.74 266,275.91 265.3,275.85 264.6,276.07 263.9,275.97 263.2,276.55 262.5,276.64 261.8,275.45 261.1,275.99 260.4,275.43 259.7,275 259,276 258.3,275.08 257.6,275.43 256.9,275.59 256.2,276.86 255.5,275.56 254.8,275.01 254.1,274.52 253.4,274.99 252.7,274.66 252,274.93 251.3,274.9 250.6,274.34 249.9,274.81 249.2,273.85 248.5,274.61 247.8,273.88 247.1,274.39 246.4,274.58 245.7,273.77 245,273.25 244.3,272.71 243.6,272.53 242.9,273.76 242.2,274.65 241.5,274.62 240.8,274.12 240.1,274.31 239.4,273.95 238.7,274.13 238,274.19 237.3,273.65 236.6,273.71 235.9,274.36 235.2,273.51 234.5,274.13 233.8,274.41 233.1,273.14 232.4,273.54 231.7,274.33 231,273.48 230.3,272.89 229.6,274.17 228.9,273.32 228.2,273.58 227.5,273.39 226.8,272.8 226.1,272.91 225.4,272.69 224.7,272.86 224,272.87 223.3,272.41 222.6,272.29 221.9,272.76 221.2,272.38 220.5,272.21 219.8,272.4 219.1,270.94 218.4,271.67 217.7,271.24 217,271.59 216.3,270.61 215.6,270.67 214.9,270.48 214.2,271.07 213.5,269.62 212.8,269.73 212.1,269.05 211.4,270.09 210.7,269.37 210,269.19 209.3,268.84 208.6,268.19 207.9,268.25 207.2,268.51 206.5,268.21 205.8,268.71 205.1,267.6 204.4,267.53 203.7,267.03 203,265.83 202.3,265.95 201.6,265.2 200.9,264.35 200.2,264.07 199.5,261.68 198.8,269.12 198.1,271.97 197.4,271.7 196.7,271.75 196,271.24 195.3,272.19 194.6,272.01 193.9,272.91 193.2,272.05 192.5,272.25 191.8,272.22 191.1,272.49 190.4,271.32 189.7,271.89 189,272.67 188.3,272.3 187.6,271.86 186.9,271.75 186.2,272.06 185.5,272 184.8,272.22 184.1,271.19 183.4,271.36 182.7,272.27 182,271.81 181.3,272.73 180.6,272.34 179.9,271.67 179.2,272.26 178.5,272.19 177.8,271.86 177.1,271.17 176.4,272.12 175.7,271.65 175,272.08 174.3,272.38 173.6,271.65 172.9,270.96 172.2,271.79 171.5,271.73 170.8,271.88 170.1,272.67 169.4,272.02 168.7,272.36 168,272.13 167.3,272.01 166.6,271.73 165.9,272.37 165.2,272.35 164.5,271.09 163.8,271.91 163.1,271.83 162.4,272.58 161.7,271.25 161,272.05 160.3,272.11 159.6,272.91 158.9,271.83 158.2,272.36 157.5,271.08 156.8,271.65 156.1,271.77 155.4,274.13 154.7,275.83 154,276.79 153.3,276.61 152.6,275.86 151.9,275.35 151.2,276.19 150.5,276.02 149.8,275.88 149.1,276.6 148.4,276.54 147.7,275.85 147,275.77 146.3,276.42 145.6,277 144.9,276.81 144.2,277.29 143.5,276.52 142.8,275.66 142.1,277.08 141.4,276.91 140.7,276.57 140,276.77 139.3,276.31 138.6,276.47 137.9,277.04 137.2,276.19 136.5,277.32 135.8,277.03 135.1,277.14 134.4,277.2 133.7,277.55 133,277.29 132.3,276.95 131.6,277.15 130.9,276.84 130.2,276.8 129.5,277.63 128.8,276.83 128.1,277.25 127.4,277.49 126.7,277.58 126,277.52 125.3,277.96 124.6,277.22 123.9,277.72 123.2,277.17 122.5,278.12 121.8,278.16 121.1,278.86 120.4,278.01 119.7,277.56 119,277.64 118.3,277.92 117.6,277.9 116.9,277.84 116.2,278.62 115.5,277.4 114.8,277.86 114.1,278.34 113.4,278.17 112.7,278.08 112,279.35 111.3,280.17 110.6,283.31 109.9,284.02 109.2,283.72 108.5,284.11 107.8,284.8 107.1,284.31 106.4,284.53 105.7,284.34 105,284.75 104.3,284.41 103.6,285.7 102.9,285.56 102.2,285.02 101.5,286.21 100.8,285.15 100.1,285.65 99.4,286.43 98.7,286.7 98,286.05 97.3,286.46 96.6,286.61 95.9,286.79 95.2,286.71 94.5,286.19 93.8,287.37 93.1,287.62 92.4,287.98 91.7,287.52 91,287.32 90.3,287.16 89.6,288.2 88.9,289.03 88.2,288.84 87.5,289.11 86.8,289.65 86.1,289.35 85.4,289.85 84.7,289.74 84,289.66 83.3,289.32 82.6,289.79 81.9,289.06 81.2,290.04 80.5,289.7 79.8,289.78 79.1,289.44 78.4,288.81 77.7,289.68 77,289.8 76.3,289.59 75.6,289.09 74.9,289.57 74.2,289.25 73.5,289.79 72.8,290.12 72.1,289.31 71.4,289.63 70.7,289.11 70,289.54 69.3,289.03 68.6,289.93 67.9,289.88 67.2,290.57 66.5,292.54 65.8,293.11 65.1,292.27 64.4,292.34 63.7,293 63,292.38 62.3,292.83 61.6,293.08 60.9,292.95 60.2,293.09 59.5,292.8 58.8,292.63 58.1,292.32 57.4,292.12 56.7,292.43 56,291.99 55.3,292.89 54.6,292.46 53.9,292.43 53.2,293.7 52.5,292.52 51.8,292.96 51.1,293.06 50.4,292.47 49.7,293.08 49,292.93 48.3,293.11 47.6,293.13 46.9,293.49 46.2,293.43 45.5,293.06 44.8,293.33" fill="#6cbf47" fill-opacity="0.55"/>
<polygon points="44.8,289.55 45.5,289.3 46.2,289.61 46.9,289.34 47.6,289.21 48.3,289.98 49,289.24 49.7,289.24 50.4,288.95 51.1,289.03 51.8,289.43 52.5,289.38 53.2,289.2 53.9,288.97 54.6,289.36 55.3,288.63 56,289.02 56.7,289.02 57.4,288.83 58.1,289.11 58.8,288.84 59.5,288.78 60.2,289.55 60.9,289.21 61.6,289.33 62.3,288.96 63,289.22 63.7,289.14 64.4,289.25 65.1,289.58 65.8,288.78 66.5,288.71 67.2,287.18 67.9,285.21 68.6,285.84 69.3,286.26 70,286.44 70.7,286.07 71.4,286.58 72.1,286.62 72.8,286.11 73.5,286.65 74.2,286.75 74.9,286.36 75.6,285.92 76.3,286.65 77,286.15 77.7,286.08 78.4,286.23 79.1,286.02 79.8,286.5 80.5,286.41 81.2,286.54 81.9,286.34 82.6,285.92 83.3,286.11 84,286.41 84.7,286.02 85.4,287.02 86.1,286.06 86.8,285.95 87.5,286.47 88.2,286.19 88.9,285.41 89.6,284.81 90.3,284.64 91,284.64 91.7,284.48 92.4,284.04 93.1,284.13 93.8,284.12 94.5,283.97 95.2,282.68 95.9,283.21 96.6,283.12 97.3,283.15 98,283.15 98.7,283.24 99.4,283.02 100.1,282.67 100.8,282.58 101.5,282.97 102.2,282.13 102.9,282.28 103.6,282.53 104.3,282.03 105,281.19 105.7,281.78 106.4,281.43 107.1,281.38 107.8,281.6 108.5,281.3 109.2,280.95 109.9,281.16 110.6,280.9 111.3,277.74 112,275.95 112.7,275.88 113.4,275.65 114.1,275.56 114.8,275.66 115.5,275.31 116.2,275.16 116.9,275.88 117.6,275.36 118.3,275.38 119,275.29 119.7,275.28 120.4,275.23 121.1,275.19 121.8,274.88 122.5,275.35 123.2,274.8 123.9,275.27 124.6,274.33 125.3,274.54 126,275.1 126.7,274.7 127.4,274.49 128.1,274.75 128.8,274.28 129.5,274.56 130.2,273.82 130.9,274.29 131.6,274.18 132.3,274.49 133,274.53 133.7,273.96 134.4,274.65 135.1,273.93 135.8,273.44 136.5,273.29 137.2,274.42 137.9,273.87 138.6,273.65 139.3,273.57 140,273.41 140.7,274.09 141.4,273.61 142.1,274.12 142.8,273.47 143.5,272.77 144.2,273.68 144.9,273.26 145.6,273.25 146.3,273.74 147,273.13 147.7,273.51 148.4,273.11 149.1,272.83 149.8,273.15 150.5,272.77 151.2,273.26 151.9,273.13 152.6,272.81 153.3,272.92 154,272.85 154.7,272.55 155.4,270.17 156.1,268.27 156.8,268.53 157.5,268.07 158.2,268.39 158.9,268.48 159.6,268.13 160.3,268.24 161,268.21 161.7,268.6 162.4,268.17 163.1,268.52 163.8,268.85 164.5,268.5 165.2,267.92 165.9,268.44 166.6,268.72 167.3,268.33 168,268.75 168.7,268.61 169.4,268.55 170.1,268.35 170.8,268.28 171.5,268.36 172.2,268.47 172.9,268.61 173.6,268.58 174.3,268.37 175,268.48 175.7,268.59 176.4,267.99 177.1,268.25 177.8,268.24 178.5,268.43 179.2,268.41 179.9,268.42 180.6,268.24 181.3,268.71 182,268.59 182.7,268.02 183.4,268.52 184.1,268.19 184.8,269.04 185.5,268.4 186.2,268.42 186.9,268.57 187.6,268.49 188.3,268.53 189,269.02 189.7,268.63 190.4,268.81 191.1,268.91 191.8,268.28 192.5,269.08 193.2,268.79 193.9,268.87 194.6,268.33 195.3,268.84 196,268.72 196.7,268.44 197.4,269.29 198.1,268.78 198.8,265.8 199.5,259.51 200.2,260.85 200.9,262.03 201.6,262.39 202.3,263.01 203,263.51 203.7,263.13 204.4,263.78 205.1,264.04 205.8,264.61 206.5,265.27 207.2,265.29 207.9,265.04 208.6,265.52 209.3,266.17 210,265.96 210.7,266.35 211.4,266.73 212.1,266.34 212.8,267.3 213.5,267.36 214.2,267.62 214.9,267.34 215.6,267.59 216.3,267.83 217,268.27 217.7,268.41 218.4,268.61 219.1,269.3 219.8,269.34 220.5,268.84 221.2,268.94 221.9,269.72 222.6,269.18 223.3,269.77 224,269.91 224.7,269.34 225.4,269.49 226.1,269.67 226.8,269.46 227.5,269.5 228.2,269.75 228.9,270.2 229.6,269.88 230.3,270.01 231,269.98 231.7,269.76 232.4,270.66 233.1,269.56 233.8,270.11 234.5,270.52 235.2,269.98 235.9,270.62 236.6,270.86 237.3,270.27 238,270.64 238.7,270.29 239.4,270.82 240.1,270.74 240.8,270.83 241.5,271.22 242.2,270.99 242.9,269.85 243.6,268.77 244.3,268.87 245,269.95 245.7,270.1 246.4,269.6 247.1,270.51 247.8,270.2 248.5,270.37 249.2,270.07 249.9,270.44 250.6,270.58 251.3,270.47 252,270.67 252.7,270.09 253.4,271.21 254.1,270.54 254.8,270.3 255.5,270.74 256.2,270.86 256.9,271.35 257.6,270.99 258.3,271.42 259,271.13 259.7,272.15 260.4,271.73 261.1,272.23 261.8,271.42 262.5,272 263.2,271.59 263.9,272.13 264.6,272.23 265.3,271.63 266,271.84 266.7,271.91 267.4,271.89 268.1,272.2 268.8,272.2 269.5,272.14 270.2,272.67 270.9,272.86 271.6,272.36 272.3,272.64 273,272.87 273.7,272.85 274.4,272.77 275.1,273.28 275.8,273.35 276.5,273.35 277.2,273.14 277.9,273.86 278.6,273.84 279.3,273.26 280,273.4 280.7,273.81 281.4,273.23 282.1,273.61 282.8,273.52 283.5,273.32 284.2,273.48 284.9,273.09 285.6,273.42 286.3,270.47 287,271.04 287.7,270.87 288.4,271.03 289.1,270.99 289.8,271.43 290.5,271.69 291.2,271.76 291.9,271.87 292.6,271.47 293.3,271.98 294,271.75 294.7,271.61 295.4,271.68 296.1,272.21 296.8,272.46 297.5,271.79 298.2,272.78 298.9,272.76 299.6,272.26 300.3,272.3 301,272.48 301.7,272.86 302.4,272.51 303.1,272.36 303.8,272.85 304.5,272.19 305.2,272.92 305.9,273.29 306.6,273.09 307.3,273.3 308,273.27 308.7,273.41 309.4,273.3 310.1,273.07 310.8,273.31 311.5,273.42 312.2,273.88 312.9,274.05 313.6,273.75 314.3,273.46 315,273.53 315.7,273.76 316.4,274.29 317.1,274.04 317.8,273.99 318.5,273.84 319.2,274.39 319.9,274.28 320.6,274.24 321.3,274.35 322,274.89 322.7,274.39 323.4,275.01 324.1,274.94 324.8,274.65 325.5,274.96 326.2,274.72 326.9,274.57 327.6,274.8 328.3,274.67 329,275.4 329.7,275.47 330.4,274.31 331.1,273.09 331.8,270.84 332.5,270.79 333.2,269.22 333.9,269.21 334.6,268.3 335.3,268 336,267.78 336.7,267.04 337.4,267.79 338.1,267.89 338.8,267.53 339.5,268.47 340.2,268.47 340.9,268.49 341.6,268.6 342.3,269.96 343,269.06 343.7,268.82 344.4,269.27 345.1,269.61 345.8,269.73 346.5,269.95 347.2,269.78 347.9,270.39 348.6,270.21 349.3,270.07 350,270.36 350.7,270.61 351.4,271.11 352.1,271.13 352.8,271.01 353.5,271.24 354.2,271.43 354.9,272.1 355.6,271.43 356.3,271.88 357,272.09 357.7,271.71 358.4,272.18 359.1,272.3 359.8,272.23 360.5,272.66 361.2,272.91 361.9,273.05 362.6,272.76 363.3,272.99 364,273.75 364.7,272.82 365.4,273.33 366.1,273.64 366.8,273.53 367.5,273.79 368.2,273.76 368.9,274.04 369.6,274.31 370.3,273.97 371,274.21 371.7,274.24 372.4,274.25 372.4,280.63 371.7,280.78 371,280.57 370.3,280.44 369.6,280.4 368.9,280.39 368.2,280.36 367.5,279.9 366.8,280.27 366.1,280.07 365.4,279.9 364.7,279.81 364,279.87 363.3,279.47 362.6,279.13 361.9,278.7 361.2,278.63 360.5,278.47 359.8,278.23 359.1,278.5 358.4,278.25 357.7,277.72 357,277.93 356.3,278 355.6,277.46 354.9,277.37 354.2,277.17 353.5,277.24 352.8,276.46 352.1,276.81 351.4,276.93 350.7,276.44 350,276.55 349.3,276.38 348.6,275.6 347.9,275.99 347.2,275.58 346.5,275.28 345.8,275.48 345.1,275.08 344.4,274.81 343.7,274.4 343,273.43 342.3,273.61 341.6,273.45 340.9,272.95 340.2,272.5 339.5,272.58 338.8,271.75 338.1,271.35 337.4,271.39 336.7,271.31 336,270.39 335.3,270.93 334.6,271.22 333.9,271.24 333.2,271.71 332.5,272.06 331.8,273.44 331.1,274.85 330.4,275.31 329.7,276.77 329,279.69 328.3,280.13 327.6,280.27 326.9,280.26 326.2,280.21 325.5,279.54 324.8,279.35 324.1,279.81 323.4,279.58 322.7,279.16 322,279.79 321.3,279.18 320.6,279.97 319.9,279.55 319.2,279.33 318.5,279.21 317.8,278.9 317.1,279.07 316.4,279.23 315.7,279.02 315,279.21 314.3,278.89 313.6,278.93 312.9,279 312.2,278.85 311.5,278.73 310.8,278.97 310.1,278.3 309.4,278.55 308.7,278.69 308,278.15 307.3,278.74 306.6,277.95 305.9,278.29 305.2,278.16 304.5,278.51 303.8,278.01 303.1,277.37 302.4,277.7 301.7,277.55 301,277.73 300.3,277.53 299.6,277.71 298.9,277.38 298.2,277.26 297.5,276.48 296.8,276.97 296.1,276.58 295.4,276.33 294.7,276.37 294,276.51 293.3,276.76 292.6,276.32 291.9,275.62 291.2,275.26 290.5,274.3 289.8,274.39 289.1,273.01 288.4,272.56 287.7,272.27 287,271.99 286.3,273.14 285.6,277.53 284.9,277.6 284.2,278.32 283.5,277.64 282.8,277.62 282.1,277.72 281.4,277.86 280.7,277.83 280,277.74 279.3,277.87 278.6,277.74 277.9,277.82 277.2,277.69 276.5,277.27 275.8,277.21 275.1,277.5 274.4,277.17 273.7,277.2 273,276.73 272.3,277.04 271.6,277.28 270.9,276.93 270.2,277.16 269.5,276.69 268.8,276.97 268.1,276.24 267.4,276.3 266.7,276.54 266,276.43 265.3,275.78 264.6,276.32 263.9,276.07 263.2,276.3 262.5,275.95 261.8,275.51 261.1,275.67 260.4,275.7 259.7,275.58 259,275.29 258.3,275.35 257.6,275.51 256.9,275.4 256.2,275.52 255.5,275.79 254.8,274.44 254.1,274.81 253.4,275.08 252.7,275.03 252,274.71 251.3,274.49 250.6,274.43 249.9,274.67 249.2,274.58 248.5,274.25 247.8,274.06 247.1,273.84 246.4,273.58 245.7,274.36 245,273.43 244.3,273.13 243.6,272.44 242.9,273.14 242.2,274.78 241.5,274.29 240.8,274.54 240.1,274.46 239.4,274.71 238.7,273.66 238,274.63 237.3,274.3 236.6,273.84 235.9,274.73 235.2,273.81 234.5,274.28 233.8,274.27 233.1,273.45 232.4,273.77 231.7,274.11 231,273.15 230.3,273.69 229.6,273.1 228.9,273.47 228.2,273.38 227.5,273.29 226.8,272.58 226.1,273.15 225.4,272.92 224.7,272.32 224,272.57 223.3,272.57 222.6,272.92 221.9,272.72 221.2,271.94 220.5,271.54 219.8,272.19 219.1,271.76 218.4,271.85 217.7,271.57 217,271.1 216.3,271.17 215.6,270.89 214.9,270.88 214.2,270.62 213.5,270.54 212.8,269.77 212.1,269.82 211.4,270.07 210.7,269.56 210,269.81 209.3,269.71 208.6,268.98 207.9,268.36 207.2,268.66 206.5,268.54 205.8,267.82 205.1,267.88 204.4,267.26 203.7,266.46 203,266.42 202.3,266.11 201.6,265.38 200.9,264.71 200.2,263.31 199.5,262.07 198.8,268.71 198.1,271.94 197.4,272.93 196.7,271.98 196,271.91 195.3,272.12 194.6,271.96 193.9,271.22 193.2,272.16 192.5,272.39 191.8,272.57 191.1,271.99 190.4,271.61 189.7,272.26 189,272.01 188.3,271.47 187.6,272.49 186.9,272.17 186.2,272.09 185.5,271.84 184.8,271.46 184.1,272.54 183.4,271.83 182.7,271.1 182,272.07 181.3,272 180.6,272.34 179.9,272.32 179.2,271.72 178.5,272.54 177.8,272.37 177.1,272.25 176.4,272.28 175.7,271.71 175,272 174.3,272.65 173.6,271.89 172.9,271.97 172.2,272.05 171.5,271.87 170.8,271.73 170.1,272.03 169.4,271.63 168.7,272.22 168,271.55 167.3,272.15 166.6,271.7 165.9,271.31 165.2,272.43 164.5,271.87 163.8,272.22 163.1,271.97 162.4,272.17 161.7,271.84 161,272 160.3,271.59 159.6,271.95 158.9,272.22 158.2,272.22 157.5,271.42 156.8,272.09 156.1,271.82 155.4,273.3 154.7,275.55 154,275.43 153.3,276.19 152.6,276.2 151.9,275.88 151.2,276.37 150.5,276.04 149.8,275.96 149.1,276.1 148.4,275.84 147.7,276.59 147,276 146.3,276.44 145.6,276.58 144.9,276.58 144.2,275.97 143.5,276.11 142.8,276.94 142.1,276.26 141.4,276.87 140.7,276.07 140,276.66 139.3,277 138.6,276.83 137.9,277.3 137.2,276.69 136.5,276.85 135.8,277.41 135.1,276.87 134.4,277.31 133.7,277.05 133,277.08 132.3,277.32 131.6,277.43 130.9,277.65 130.2,277.93 129.5,276.88 128.8,277.25 128.1,277.14 127.4,277.82 126.7,277.39 126,277.29 125.3,278.22 124.6,278.18 123.9,278.28 123.2,277.68 122.5,277.73 121.8,277.93 121.1,278.15 120.4,277.41 119.7,278.18 119,278.26 118.3,277.92 117.6,278.25 116.9,278.48 116.2,277.89 115.5,278.19 114.8,278.29 114.1,278.94 113.4,278.65 112.7,278.51 112,277.95 111.3,279.88 110.6,283.25 109.9,283.28 109.2,283.85 108.5,284.35 107.8,284.06 107.1,284.55 106.4,284.27 105.7,284.76 105,284.73 104.3,284.28 103.6,284.79 102.9,285.01 102.2,285.88 101.5,285.64 100.8,285.6 100.1,285.72 99.4,285.79 98.7,285.47 98,285.73 97.3,286.82 96.6,286.33 95.9,286.63 95.2,286.43 94.5,286.71 93.8,287.33 93.1,287.59 92.4,287.13 91.7,287.29 91,287.51 90.3,288 89.6,287.77 88.9,289.1 88.2,289.58 87.5,289.88 86.8,289.53 86.1,289.51 85.4,289.68 84.7,289.33 84,289.49 83.3,289.59 82.6,289.76 81.9,289.65 81.2,289.96 80.5,289.73 79.8,289.5 79.1,289.53 78.4,289.81 77.7,289.75 77,289.09 76.3,289.55 75.6,289.9 74.9,289.23 74.2,288.94 73.5,288.84 72.8,289.77 72.1,289.46 71.4,289.52 70.7,289.24 70,289.71 69.3,289.19 68.6,289.11 67.9,290 67.2,290.98 66.5,291.97 65.8,292.15 65.1,292.69 64.4,292.39 63.7,292.08 63,292.53 62.3,292.64 61.6,292.3 60.9,292.3 60.2,292.57 59.5,292.54 58.8,292.29 58.1,293.09 57.4,293.06 56.7,292.63 56,292.91 55.3,292.54 54.6,292.78 53.9,292.93 53.2,293.11 52.5,292.56 51.8,293.45 51.1,292.9 50.4,292.72 49.7,293.41 49,292.69 48.3,293.38 47.6,293.53 46.9,293.54 46.2,293.28 45.5,292.73 44.8,293.09" fill="#6cbf47" fill-opacity="0.5"/>
<path d="M45.3,293.07 V281.14 M48.2,293.1 V280.85 M51.1,292.74 V281.08 M54,292.36 V280.59 M56.9,292.18 V279.45 M59.8,292.13 V281.25 M62.7,293.04 V280.64 M65.6,293.01 V280.09 M68.5,289.88 V279.41 M71.4,289.79 V279.6 M74.3,289.76 V277.98 M77.2,289.21 V278.05 M80.1,290.29 V277.56 M83,289.59 V277.86 M85.9,289.64 V277.72 M88.8,288.8 V277.4 M91.7,287.11 V276.01 M94.6,287 V275.92 M97.5,286.6 V277.02 M100.4,285.8 V276.57 M103.3,284.63 V275.29 M106.2,283.76 V275.02 M109.1,284.26 V274.55 M112,278.82 V269.93 M114.9,277.89 V269.25 M117.8,278.01 V268.88 M120.7,278.55 V269.4 M123.6,277.68 V268.1 M126.5,277.5 V268.08 M129.4,277.46 V267.21 M132.3,277.37 V267.69 M135.2,277.05 V266.58 M138.1,277.18 V265.99 M141,276.65 V266.03 M143.9,276.38 V265.99 M146.8,275.85 V265.36 M149.7,276.29 V266.44 M152.6,276.67 V265.38 M155.5,273.24 V261.18 M158.4,272.37 V259.88 M161.3,272.1 V260.18 M164.2,272.09 V259.86 M167.1,271.39 V260.64 M170,271.88 V260.05 M172.9,271.42 V260.03 M175.8,271.76 V260.6 M178.7,271.86 V260.19 M181.6,271.88 V259.53 M184.5,271.73 V259.5 M187.4,272.01 V260.32 M190.3,271.97 V260.57 M193.2,272.14 V261.67 M196.1,271.83 V260.06 M199,266.96 V256.79 M201.9,265.36 V254.62 M204.8,267.59 V257.05 M207.7,268.52 V257.38 M210.6,269.97 V258.77 M213.5,270.72 V260.22 M216.4,271.21 V259.33 M219.3,272.43 V262.33 M222.2,271.83 V262.03 M225.1,272.6 V262.31 M228,273.02 V261.12 M230.9,273.96 V262.54 M233.8,273.56 V262.35 M236.7,273.81 V263.22 M239.6,274.01 V261.9 M242.5,274.6 V262.2 M245.4,273.89 V261.19 M248.3,274.29 V260.91 M251.2,274.9 V260.2 M254.1,274.86 V261.8 M257,275.44 V261.53 M259.9,275.85 V262.52 M262.8,275.94 V261.95 M265.7,276.28 V261.38 M268.6,276.76 V262.36 M271.5,277.33 V262.65 M274.4,277.36 V263.21 M277.3,277.51 V263.7 M280.2,277.75 V263.72 M283.1,277.99 V263.14 M286,275.38 V264.6 M288.9,273.75 V264.85 M291.8,275.25 V262.4 M294.7,276.61 V261.85 M297.6,277.16 V260.83 M300.5,277.91 V260.86 M303.4,277.48 V260.68 M306.3,278.26 V260.56 M309.2,278.63 V261.87 M312.1,279.16 V261.13 M315,279.08 V261.32 M317.9,278.92 V261.66 M320.8,279.78 V262.26 M323.7,279.59 V261.84 M326.6,280.64 V262.29 M329.5,277.04 V271.19 M332.4,271.87 V267.64 M335.3,270.75 V260.13 M338.2,271.64 V258.84 M341.1,273.14 V258.33 M344,274.18 V257.92 M346.9,275.48 V257.65 M349.8,276.27 V258.44 M352.7,275.73 V258.38 M355.6,277.34 V257.61 M358.5,277.66 V258.29 M361.4,278.89 V259.02 M364.3,279.43 V258.16 M367.2,279.74 V258.46 M370.1,280.42 V259.05" fill="none" stroke="#6cbf47" stroke-width="1.05" stroke-opacity="0.85"/>
<rect x="66.2" y="286.28" width="1.2" height="6.72" fill="#fff"/>
<rect x="285.6" y="270.21" width="1.2" height="5.16" fill="#fff"/>
<line x1="67.6" y1="281" x2="67.6" y2="269" stroke="#6cbf47" stroke-width="1.1" />
<line x1="111.4" y1="275" x2="111.4" y2="258.1" stroke="#6cbf47" stroke-width="1.1" />
<line x1="155.3" y1="265" x2="155.3" y2="248.4" stroke="#6cbf47" stroke-width="1.1" />
<line x1="199" y1="260" x2="199" y2="246.6" stroke="#6cbf47" stroke-width="1.1" />
<line x1="242.9" y1="262" x2="242.9" y2="255.4" stroke="#6cbf47" stroke-width="1.1" />
<line x1="286.8" y1="266" x2="286.8" y2="262" stroke="#6cbf47" stroke-width="1.1" />
<line x1="285.4" y1="276" x2="285.4" y2="282.4" stroke="#6cbf47" stroke-width="1.0" />
<line x1="153.9" y1="274" x2="153.9" y2="278" stroke="#6cbf47" stroke-width="1.0" />
<rect x="45.0" y="113.3" width="2.9" height="2.4" fill="#1b1b1b"/>
<rect x="45.0" y="152.3" width="2.9" height="2.4" fill="#1b1b1b"/>
<rect x="45.0" y="211.1" width="2.9" height="2.4" fill="#1b1b1b"/>
<rect x="45.0" y="286.6" width="2.9" height="2.4" fill="#1b1b1b"/>
<text x="45" y="101.2" font-size="9.7" text-anchor="start" fill="#9d9d9d" >0.747</text>
<text x="45" y="138" font-size="9.7" text-anchor="start" fill="#9d9d9d" >0.801</text>
<text x="45" y="191.9" font-size="9.7" text-anchor="start" fill="#9d9d9d" >0.779</text>
<text x="45" y="263.8" font-size="9.7" text-anchor="start" fill="#9d9d9d" >0.861</text>
<text x="62.72" y="299.6" font-size="8.5" text-anchor="start" fill="#333" >3 s</text>
<text x="105.05" y="299.6" font-size="8.5" text-anchor="start" fill="#333" >10 s</text>
<text x="150.31" y="299.6" font-size="8.5" text-anchor="start" fill="#333" >30 s</text>
<text x="193.48" y="299.6" font-size="8.5" text-anchor="start" fill="#333" >100 s</text>
<text x="236.49" y="299.6" font-size="8.5" text-anchor="start" fill="#333" >300 s</text>
<text x="275.77" y="299.6" font-size="8.5" text-anchor="start" fill="#333" >1000 s</text>
<text x="317.98" y="299.6" font-size="8.5" text-anchor="start" fill="#333" >3000 s</text>
<text x="48.4" y="39.6" font-size="9.7" text-anchor="start" fill="#333" font-style="italic">μ</text>
<line x1="57.8" y1="25.9" x2="57.8" y2="46.5" stroke="#3a3a3a" stroke-width="1.8" />
<text x="61.6" y="46.6" font-size="9.7" text-anchor="start" fill="#333" ><tspan font-style="italic">d</tspan>=52 mm</text>
<text x="223.4" y="37.2" font-size="9.7" text-anchor="start" fill="#333" font-style="italic">μ</text>
<line x1="237" y1="25" x2="237" y2="41.4" stroke="#3a3a3a" stroke-width="1.8" />
<line x1="234" y1="25" x2="240" y2="25" stroke="#3a3a3a" stroke-width="1.5" />
<line x1="234" y1="41.4" x2="240" y2="41.4" stroke="#3a3a3a" stroke-width="1.5" />
<text x="242.2" y="37.9" font-size="9.7" text-anchor="start" fill="#333" >0.02</text>
<rect x="107.6" y="15.6" width="69" height="54.5" fill="#fff" stroke="#444" stroke-width="0.9"/>
<line x1="112.9" y1="25.4" x2="139.8" y2="25.4" stroke="#2b58ad" stroke-width="1.4" stroke-linecap="round"/>
<text x="142.76" y="30.9" font-size="9.7" text-anchor="start" fill="#262626" >100 °C</text>
<line x1="112.9" y1="37.7" x2="139.8" y2="37.7" stroke="#ec2a2a" stroke-width="1.4" stroke-linecap="round"/>
<text x="143.01" y="42.3" font-size="9.7" text-anchor="start" fill="#262626" >200 °C</text>
<line x1="112.9" y1="50.1" x2="139.8" y2="50.1" stroke="#a65aab" stroke-width="1.4" stroke-linecap="round"/>
<text x="143.13" y="54.1" font-size="9.7" text-anchor="start" fill="#262626" >300 °C</text>
<line x1="112.9" y1="63.6" x2="139.8" y2="63.6" stroke="#6cbf47" stroke-width="1.4" stroke-linecap="round"/>
<text x="143.28" y="65.5" font-size="9.7" text-anchor="start" fill="#262626" >400 °C</text>
<line x1="317.6" y1="30.7" x2="317.6" y2="178.5" stroke="#1e1e1e" stroke-width="1.4" fill="none" stroke-dasharray="7.9 8.85" stroke-dashoffset="2.45"/>
<line x1="317.0" y1="30.7" x2="343.3" y2="30.7" stroke="#1e1e1e" stroke-width="1.4" fill="none" stroke-dasharray="3.6 8.7 8.1 30"/>
<line x1="343.3" y1="33.5" x2="343.3" y2="178.5" stroke="#1e1e1e" stroke-width="1.4" fill="none" stroke-dasharray="8 8.8"/>
<line x1="318.3" y1="178.5" x2="344.0" y2="178.5" stroke="#1e1e1e" stroke-width="1.4" fill="none" stroke-dasharray="8.2 8.6 8.9 30"/>
<rect x="44.5" y="11.3" width="328.0" height="298.7" fill="none" stroke="#000" stroke-width="1.15"/>
<line x1="42.1" y1="310" x2="372.5" y2="310" stroke="#000" stroke-width="1.5" />
<line x1="44.1" y1="310" x2="44.1" y2="314.3" stroke="#000" stroke-width="1.3" />
<text x="38.31" y="328.1" font-size="9.7" text-anchor="start" fill="#262626" >52</text>
<line x1="66" y1="310" x2="66" y2="312.3" stroke="#000" stroke-width="1.3" />
<line x1="87.9" y1="310" x2="87.9" y2="314.3" stroke="#000" stroke-width="1.3" />
<text x="82.07" y="328.1" font-size="9.7" text-anchor="start" fill="#262626" >53</text>
<line x1="109.8" y1="310" x2="109.8" y2="312.3" stroke="#000" stroke-width="1.3" />
<line x1="131.7" y1="310" x2="131.7" y2="314.3" stroke="#000" stroke-width="1.3" />
<text x="127.75" y="328.1" font-size="9.7" text-anchor="start" fill="#262626" >54</text>
<line x1="153.6" y1="310" x2="153.6" y2="312.3" stroke="#000" stroke-width="1.3" />
<line x1="175.5" y1="310" x2="175.5" y2="314.3" stroke="#000" stroke-width="1.3" />
<text x="171.06" y="328.1" font-size="9.7" text-anchor="start" fill="#262626" >55</text>
<line x1="197.4" y1="310" x2="197.4" y2="312.3" stroke="#000" stroke-width="1.3" />
<line x1="219.3" y1="310" x2="219.3" y2="314.3" stroke="#000" stroke-width="1.3" />
<text x="213.67" y="328.1" font-size="9.7" text-anchor="start" fill="#262626" >56</text>
<line x1="241.2" y1="310" x2="241.2" y2="312.3" stroke="#000" stroke-width="1.3" />
<line x1="263.1" y1="310" x2="263.1" y2="314.3" stroke="#000" stroke-width="1.3" />
<text x="258.71" y="328.1" font-size="9.7" text-anchor="start" fill="#262626" >57</text>
<line x1="285" y1="310" x2="285" y2="312.3" stroke="#000" stroke-width="1.3" />
<line x1="306.9" y1="310" x2="306.9" y2="314.3" stroke="#000" stroke-width="1.3" />
<text x="300.92" y="328.1" font-size="9.7" text-anchor="start" fill="#262626" >58</text>
<line x1="328.8" y1="310" x2="328.8" y2="312.3" stroke="#000" stroke-width="1.3" />
<line x1="350.7" y1="310" x2="350.7" y2="314.3" stroke="#000" stroke-width="1.3" />
<text x="345.79" y="328.1" font-size="9.7" text-anchor="start" fill="#262626" >59</text>
<line x1="372.6" y1="310" x2="372.6" y2="312.3" stroke="#000" stroke-width="1.3" />
<text x="206.5" y="342.4" font-size="9.7" text-anchor="middle" fill="#262626" >Slip (mm)</text>
<text transform="translate(32.6,160.3) rotate(-90)" font-size="9.7" text-anchor="middle" fill="#262626">Friction coefficient, <tspan font-style="italic">μ</tspan></text>
<text x="474.9" y="128.96" font-size="9.7" text-anchor="start" fill="#c4c4c4" >Sliding at</text>
<text x="474.9" y="140.36" font-size="9.7" text-anchor="start" fill="#c4c4c4" >10 <tspan>μ</tspan>m/s</text>
<text x="567.8" y="128.96" font-size="9.7" text-anchor="start" fill="#c4c4c4" >Sliding at</text>
<text x="567.8" y="140.36" font-size="9.7" text-anchor="start" fill="#c4c4c4" >10 <tspan>μ</tspan>m/s</text>
<line x1="465.5" y1="143.8" x2="520.6" y2="143.8" stroke="#b9b9b9" stroke-width="1.3" stroke-dasharray="3 2.2"/>
<line x1="527.5" y1="143.8" x2="642.5" y2="143.8" stroke="#b9b9b9" stroke-width="1.3" stroke-dasharray="3 2.2"/>
<polyline points="466.5,141.5 464.2,143.8 466.5,146.1" fill="none" stroke="#b9b9b9" stroke-width="1.1"/>
<polyline points="519.6,141.5 521.9,143.8 519.6,146.1" fill="none" stroke="#b9b9b9" stroke-width="1.1"/>
<polyline points="528.4,141.5 526.1,143.8 528.4,146.1" fill="none" stroke="#b9b9b9" stroke-width="1.1"/>
<polyline points="641.6,141.5 643.9,143.8 641.6,146.1" fill="none" stroke="#b9b9b9" stroke-width="1.1"/>
<line x1="523.2" y1="146.2" x2="523.2" y2="126.2" stroke="#6e6e6e" stroke-width="1.3" />
<polyline points="520.7,129.2 523.2,125.9 525.7,129.2" fill="none" stroke="#6e6e6e" stroke-width="1.3"/>
<text x="526" y="137.1" font-size="9.7" text-anchor="start" fill="#555" >hold</text>
<rect x="462.5" y="3.6" width="182.5" height="146.6" fill="none" stroke="#2c2c2c" stroke-width="1.15"/>
<line x1="459.5" y1="3.6" x2="462.5" y2="3.6" stroke="#000" stroke-width="1.2" />
<text x="432.35" y="10.5" font-size="9.7" text-anchor="start" fill="#262626" >0.86</text>
<line x1="460.9" y1="21.92" x2="462.5" y2="21.92" stroke="#000" stroke-width="1.1" />
<line x1="459.5" y1="40.24" x2="462.5" y2="40.24" stroke="#000" stroke-width="1.2" />
<text x="432.21" y="43.7" font-size="9.7" text-anchor="start" fill="#262626" >0.84</text>
<line x1="460.9" y1="58.56" x2="462.5" y2="58.56" stroke="#000" stroke-width="1.1" />
<line x1="459.5" y1="76.88" x2="462.5" y2="76.88" stroke="#000" stroke-width="1.2" />
<text x="432.41" y="82.3" font-size="9.7" text-anchor="start" fill="#262626" >0.82</text>
<line x1="460.9" y1="95.2" x2="462.5" y2="95.2" stroke="#000" stroke-width="1.1" />
<line x1="459.5" y1="113.52" x2="462.5" y2="113.52" stroke="#000" stroke-width="1.2" />
<text x="432.3" y="118.2" font-size="9.7" text-anchor="start" fill="#262626" >0.80</text>
<line x1="460.9" y1="131.84" x2="462.5" y2="131.84" stroke="#000" stroke-width="1.1" />
<line x1="459.5" y1="150.16" x2="462.5" y2="150.16" stroke="#000" stroke-width="1.2" />
<text x="432.34" y="152.8" font-size="9.7" text-anchor="start" fill="#262626" >0.78</text>
<line x1="462.5" y1="150.2" x2="462.5" y2="153.2" stroke="#000" stroke-width="1.1" />
<line x1="492.9" y1="150.2" x2="492.9" y2="152" stroke="#000" stroke-width="1.1" />
<line x1="523.3" y1="150.2" x2="523.3" y2="153.2" stroke="#000" stroke-width="1.1" />
<line x1="553.7" y1="150.2" x2="553.7" y2="152" stroke="#000" stroke-width="1.1" />
<line x1="584.1" y1="150.2" x2="584.1" y2="153.2" stroke="#000" stroke-width="1.1" />
<line x1="614.5" y1="150.2" x2="614.5" y2="152" stroke="#000" stroke-width="1.1" />
<line x1="644.9" y1="150.2" x2="644.9" y2="153.2" stroke="#000" stroke-width="1.1" />
<text x="474.9" y="290" font-size="9.7" text-anchor="start" fill="#c4c4c4" >Sliding at</text>
<text x="474.9" y="301.4" font-size="9.7" text-anchor="start" fill="#c4c4c4" >10 <tspan>μ</tspan>m/s</text>
<text x="567.8" y="290" font-size="9.7" text-anchor="start" fill="#c4c4c4" >Sliding at</text>
<text x="567.8" y="301.4" font-size="9.7" text-anchor="start" fill="#c4c4c4" >10 <tspan>μ</tspan>m/s</text>
<line x1="465.5" y1="305.24" x2="520.6" y2="305.24" stroke="#b9b9b9" stroke-width="1.3" stroke-dasharray="3 2.2"/>
<line x1="527.5" y1="305.24" x2="642.5" y2="305.24" stroke="#b9b9b9" stroke-width="1.3" stroke-dasharray="3 2.2"/>
<polyline points="466.5,302.94 464.2,305.24 466.5,307.54" fill="none" stroke="#b9b9b9" stroke-width="1.1"/>
<polyline points="519.6,302.94 521.9,305.24 519.6,307.54" fill="none" stroke="#b9b9b9" stroke-width="1.1"/>
<polyline points="528.4,302.94 526.1,305.24 528.4,307.54" fill="none" stroke="#b9b9b9" stroke-width="1.1"/>
<polyline points="641.6,302.94 643.9,305.24 641.6,307.54" fill="none" stroke="#b9b9b9" stroke-width="1.1"/>
<line x1="523.2" y1="306.1" x2="523.2" y2="287.2" stroke="#6e6e6e" stroke-width="1.3" />
<polyline points="520.7,290.2 523.2,286.9 525.7,290.2" fill="none" stroke="#6e6e6e" stroke-width="1.3"/>
<text x="526" y="298.1" font-size="9.7" text-anchor="start" fill="#555" >hold</text>
<rect x="462.5" y="163.3" width="182.5" height="146.8" fill="none" stroke="#2c2c2c" stroke-width="1.15"/>
<line x1="459.5" y1="163.3" x2="462.5" y2="163.3" stroke="#000" stroke-width="1.2" />
<text x="432.35" y="170.6" font-size="9.7" text-anchor="start" fill="#262626" >0.86</text>
<line x1="460.9" y1="181.65" x2="462.5" y2="181.65" stroke="#000" stroke-width="1.1" />
<line x1="459.5" y1="200" x2="462.5" y2="200" stroke="#000" stroke-width="1.2" />
<text x="432.21" y="203.2" font-size="9.7" text-anchor="start" fill="#262626" >0.84</text>
<line x1="460.9" y1="218.35" x2="462.5" y2="218.35" stroke="#000" stroke-width="1.1" />
<line x1="459.5" y1="236.7" x2="462.5" y2="236.7" stroke="#000" stroke-width="1.2" />
<text x="432.41" y="241.8" font-size="9.7" text-anchor="start" fill="#262626" >0.82</text>
<line x1="460.9" y1="255.05" x2="462.5" y2="255.05" stroke="#000" stroke-width="1.1" />
<line x1="459.5" y1="273.4" x2="462.5" y2="273.4" stroke="#000" stroke-width="1.2" />
<text x="432.3" y="278.1" font-size="9.7" text-anchor="start" fill="#262626" >0.80</text>
<line x1="460.9" y1="291.75" x2="462.5" y2="291.75" stroke="#000" stroke-width="1.1" />
<line x1="459.5" y1="310.1" x2="462.5" y2="310.1" stroke="#000" stroke-width="1.2" />
<text x="432.34" y="312.5" font-size="9.7" text-anchor="start" fill="#262626" >0.78</text>
<line x1="462.5" y1="310.1" x2="462.5" y2="313.1" stroke="#000" stroke-width="1.1" />
<line x1="492.9" y1="310.1" x2="492.9" y2="311.9" stroke="#000" stroke-width="1.1" />
<line x1="523.3" y1="310.1" x2="523.3" y2="313.1" stroke="#000" stroke-width="1.1" />
<line x1="553.7" y1="310.1" x2="553.7" y2="311.9" stroke="#000" stroke-width="1.1" />
<line x1="584.1" y1="310.1" x2="584.1" y2="313.1" stroke="#000" stroke-width="1.1" />
<line x1="614.5" y1="310.1" x2="614.5" y2="311.9" stroke="#000" stroke-width="1.1" />
<line x1="644.9" y1="310.1" x2="644.9" y2="313.1" stroke="#000" stroke-width="1.1" />
<text x="455.81" y="327.3" font-size="9.7" text-anchor="start" fill="#262626" >58.4</text>
<text x="514.77" y="327.3" font-size="9.7" text-anchor="start" fill="#262626" >58.5</text>
<text x="573.28" y="327.3" font-size="9.7" text-anchor="start" fill="#262626" >58.6</text>
<text x="633.81" y="327.3" font-size="9.7" text-anchor="start" fill="#262626" >58.7</text>
<polyline points="463,97.99 463.45,98.57 463.9,98.96 464.35,98.24 464.8,99.99 465.25,98.23 465.7,100.36 466.15,99.72 466.6,98.34 467.05,99.14 467.5,99.93 467.95,98.9 468.4,98.15 468.85,99.13 469.3,100.54 469.75,97.93 470.2,99.46 470.65,99.06 471.1,98.96 471.55,98.76 472,98.81 472.45,99.83 472.9,99.5 473.35,98.3 473.8,100.22 474.25,98.08 474.7,99.55 475.15,99.19 475.6,99.95 476.05,99.32 476.5,99.84 476.95,99.03 477.4,99.78 477.85,99.31 478.3,100.66 478.75,98.53 479.2,99.95 479.65,99.4 480.1,99.19 480.55,98.63 481,99.39 481.45,97.95 481.9,98.03 482.35,99.59 482.8,97.89 483.25,100.13 483.7,98.85 484.15,99.24 484.6,99.11 485.05,99.37 485.5,98.85 485.95,98.78 486.4,98.96 486.85,99.84 487.3,99.91 487.75,100.01 488.2,99.33 488.65,98.91 489.1,97.8 489.55,99.54 490,99.69 490.45,98.75 490.9,99.66 491.35,100.02 491.8,99.13 492.25,99.85 492.7,99.29 493.15,97.76 493.6,98.7 494.05,98.75 494.5,99.45 494.95,98.41 495.4,98.73 495.85,98.34 496.3,99.03 496.75,99.11 497.2,99.79 497.65,99.66 498.1,99.18 498.55,99.24 499,99.14 499.45,99.14 499.9,100.22 500.35,97.19 500.8,98.93 501.25,99.29 501.7,99.91 502.15,98.24 502.6,99.32 503.05,99.7 503.5,98.72 503.95,97.63 504.4,98.79 504.85,98.16 505.3,99.55 505.75,98.42 506.2,100.39 506.65,99.16 507.1,98.45 507.55,98.68 508,98.24 508.45,99.35 508.9,100.18 509.35,98.9 509.8,99.75 510.25,98.35 510.7,99.29 511.15,100.79 511.6,98 512.05,99.98 512.5,99.94 512.95,97.65 513.4,97.98 513.85,98.33 514.3,99.78 514.75,98.74 515.2,98.93 515.65,99.59 516.1,99.15 516.55,99.23 517,98.82 517.45,99.9 517.9,98.47 518.35,100.31 518.8,98.8 519.25,98.46 519.7,99.54 520.15,99.4 520.6,97.57 521.05,99.22 521.5,98.04 521.95,98.43 522.4,99.65" fill="none" stroke="#2b58ad" stroke-width="1.9" stroke-linejoin="round"/>
<polyline points="522.4,99.65 522.8,99 522.9,119.2 524.1,115.8 527,114.4 530,112.2 532.4,109.8 533.6,107.6 535,103.2 536.2,94 537.2,86 539,73 541.2,61 543.4,49.6 546.3,38.5 549.2,28.4 551.3,21 553.3,14 553.9,14.6 554.4,53.6 555,52.25" fill="none" stroke="#2b58ad" stroke-width="1.25" stroke-linejoin="round"/>
<polyline points="555,52.25 555.45,53.15 555.9,52.68 556.35,54.35 556.8,52.98 557.25,52.28 557.7,52.37 558.15,52.56 558.6,53.34 559.05,53.29 559.5,54.02 559.95,53.51 560.4,53.53 560.85,53.72 561.3,53.45 561.75,53.79 562.2,54.19 562.65,54.24 563.1,53.36 563.55,52.55 564,53.27 564.45,54.08 564.9,52.19 565.35,53.64 565.8,54.32 566.25,53.65 566.7,53.29 567.15,55.34 567.6,55.12 568.05,54 568.5,55.14 568.95,55.16 569.4,53.49 569.85,56.2 570.3,53.7 570.75,54.2 571.2,53.66 571.65,54.51 572.1,53.57 572.55,54.52 573,55.32 573.45,54.75 573.9,54.45 574.35,55.9 574.8,54.41 575.25,55.94 575.7,55.28 576.15,55.93 576.6,56.23 577.05,56.72 577.5,57.02 577.95,56.94 578.4,57.51 578.85,58.63 579.3,58.66 579.75,58.34 580.2,59.08 580.65,59.5 581.1,60.36 581.55,60.94 582,61.3 582.45,60.98 582.9,61.65 583.35,60.88 583.8,60.02 584.25,62.2 584.7,61.29 585.15,61.98 585.6,62 586.05,63.49 586.5,62.4 586.95,63.65 587.4,63.31 587.85,62.99 588.3,62.96 588.75,64.58 589.2,64.73 589.65,65.2 590.1,66.12 590.55,65.13 591,65.23 591.45,65.05 591.9,65.31 592.35,65.09 592.8,64.8 593.25,66.92 593.7,64.32 594.15,65.9 594.6,66.13 595.05,66.03 595.5,65.35 595.95,65.98 596.4,65.89 596.85,65.56 597.3,66.38 597.75,66.23 598.2,66.22 598.65,67.19 599.1,66.07 599.55,67.21 600,66.58 600.45,67.43 600.9,67.31 601.35,67.56 601.8,66.84 602.25,67.11 602.7,67.18 603.15,68.03 603.6,68.56 604.05,68.93 604.5,67.95 604.95,68.49 605.4,67.43 605.85,67.14 606.3,68.22 606.75,68.49 607.2,68 607.65,67.97 608.1,69.72 608.55,68.91 609,68.43 609.45,71.35 609.9,69.98 610.35,69.75 610.8,70.54 611.25,69.63 611.7,71.37 612.15,69.29 612.6,69.55 613.05,70.46 613.5,70.12 613.95,71.74 614.4,69.73 614.85,70.44 615.3,71.22 615.75,71.54 616.2,71.95 616.65,71.58 617.1,72.98 617.55,71.21 618,71.76 618.45,72.34 618.9,71.62 619.35,71.73 619.8,71.71 620.25,71.66 620.7,71.37 621.15,71.83 621.6,71.19 622.05,72.59 622.5,71.26 622.95,73.87 623.4,73.67 623.85,73.3 624.3,72.44 624.75,72.23 625.2,73.55 625.65,72.87 626.1,73.19 626.55,72.35 627,73.65 627.45,72.4 627.9,73.09 628.35,71.86 628.8,72.67 629.25,73.53 629.7,72.92 630.15,72.96 630.6,73.84 631.05,73.26 631.5,74.19 631.95,71.66 632.4,73.76 632.85,73.74 633.3,72.32 633.75,72.51 634.2,74.05 634.65,72.71 635.1,73.03 635.55,73.91 636,73.28 636.45,73.86 636.9,72.94 637.35,73.77 637.8,74.34 638.25,73.83 638.7,72.09 639.15,74.1 639.6,73.7 640.05,73.05 640.5,74.67 640.95,72.5 641.4,75.04 641.85,73.31 642.3,74.87 642.75,73.76 643.2,72.88 643.65,73.89 644.1,74.08" fill="none" stroke="#2b58ad" stroke-width="2.0" stroke-linejoin="round"/>
<line x1="471.8" y1="98.8" x2="525.9" y2="98.8" stroke="#1a1a1a" stroke-width="1.4" />
<line x1="520.1" y1="13.3" x2="558.8" y2="13.3" stroke="#1a1a1a" stroke-width="1.5" />
<line x1="525.1" y1="23" x2="525.1" y2="90" stroke="#2e2e2e" stroke-width="1.5" stroke-dasharray="2.9 1.9"/>
<polygon points="525.1,15.8 520.6,24.2 525.1,22.2 529.6,24.2" fill="#1a1a1a"/>
<polygon points="525.1,96.8 520.6,88.4 525.1,90.4 529.6,88.4" fill="#1a1a1a"/>
<text x="504.2" y="63.2" font-size="10.2" text-anchor="start" fill="#222" >Δ<tspan font-style="italic">μ</tspan></text>
<text transform="translate(495.17,85.99) scale(1.2845,0.9442)" font-size="10.0" fill="#222" font-style="italic">μ</text>
<text x="502.4" y="89.8" font-size="6.9" text-anchor="start" fill="#333" >ss</text>
<text transform="translate(565.04,11.94) scale(1.1217,0.9164)" font-size="10.0" fill="#222" font-style="italic">μ</text>
<text x="570.77" y="15.3" font-size="6.4" text-anchor="start" fill="#333" >P</text>
<path d="M462.8,253.5 Q469.4,233.2 474.4,204.9 L475.5,274.4 Q487.6,247.65 496.7,204.9 L498.0,273.5 Q509.95,247.45 518.9,205.4 L519.8,275.3 L522.6,262.6 L523.4,280.7 Q538.8,244 549.2,181.3 L550.8,240.7 Q559.9,224.55 567,196.4 L568.1,264.3 Q579.15,241.1 587.2,201.9 L588.2,273.1 Q599.85,246.4 608.5,203.7 L609.5,274.1 Q621,247.2 629.5,204.3 L630.5,277.1 Q638.4,259.95 644.7,234.8" fill="none" stroke="#ec2a2a" stroke-width="1.2" stroke-linejoin="round"/>
<line x1="470.8" y1="203.8" x2="520.7" y2="203.8" stroke="#1a1a1a" stroke-width="1.5" />
<line x1="515.1" y1="180.1" x2="553.4" y2="180.1" stroke="#1a1a1a" stroke-width="1.5" />
<path d="M519.5,181.6 L524.3,189.6 Q519.5,187.4 514.7,189.6 Z" fill="#1a1a1a"/>
<path d="M519.5,201.2 L524.3,192.2 Q519.5,194.4 514.7,192.2 Z" fill="#1a1a1a"/>
<text x="485.6" y="194.5" font-size="10.2" text-anchor="start" fill="#222" >Δ<tspan font-style="italic">μ</tspan></text>
<text x="497.4" y="191.7" font-size="6.0" text-anchor="start" fill="#333" >pp</text>
<text transform="translate(555.36,176.96) scale(1.2302,0.9580)" font-size="10.0" fill="#222" font-style="italic">μ</text>
<text x="561.38" y="180.6" font-size="6.4" text-anchor="start" fill="#333" >P</text>
<text x="-0.6" y="359.3" font-size="11.5" text-anchor="start" fill="#222" >b</text>
<text x="358.6" y="359.4" font-size="11.5" text-anchor="start" fill="#222" >c</text>
<line x1="45.9" y1="571.2" x2="352" y2="571.2" stroke="#999" stroke-width="0.9" stroke-dasharray="2.6 2.6"/>
<rect x="44.9" y="369.5" width="314.1" height="252.7" fill="none" stroke="#000" stroke-width="1.45"/>
<line x1="40.7" y1="621.62" x2="44.9" y2="621.62" stroke="#000" stroke-width="1.35" />
<text x="14.38" y="624.3" font-size="9.7" text-anchor="start" fill="#262626" >-0.02</text>
<line x1="42.5" y1="596.41" x2="44.9" y2="596.41" stroke="#000" stroke-width="1.35" />
<line x1="40.7" y1="571.2" x2="44.9" y2="571.2" stroke="#000" stroke-width="1.35" />
<text x="17.5" y="574.5" font-size="9.7" text-anchor="start" fill="#262626" >0.00</text>
<line x1="42.5" y1="545.99" x2="44.9" y2="545.99" stroke="#000" stroke-width="1.35" />
<line x1="40.7" y1="520.78" x2="44.9" y2="520.78" stroke="#000" stroke-width="1.35" />
<text x="17.61" y="524.4" font-size="9.7" text-anchor="start" fill="#262626" >0.02</text>
<line x1="42.5" y1="495.57" x2="44.9" y2="495.57" stroke="#000" stroke-width="1.35" />
<line x1="40.7" y1="470.36" x2="44.9" y2="470.36" stroke="#000" stroke-width="1.35" />
<text x="17.41" y="475" font-size="9.7" text-anchor="start" fill="#262626" >0.04</text>
<line x1="42.5" y1="445.15" x2="44.9" y2="445.15" stroke="#000" stroke-width="1.35" />
<line x1="40.7" y1="419.94" x2="44.9" y2="419.94" stroke="#000" stroke-width="1.35" />
<text x="17.55" y="424.1" font-size="9.7" text-anchor="start" fill="#262626" >0.06</text>
<line x1="42.5" y1="394.73" x2="44.9" y2="394.73" stroke="#000" stroke-width="1.35" />
<line x1="40.7" y1="369.52" x2="44.9" y2="369.52" stroke="#000" stroke-width="1.35" />
<text x="17.54" y="374.9" font-size="9.7" text-anchor="start" fill="#262626" >0.08</text>
<line x1="48.33" y1="622.2" x2="48.33" y2="624.7" stroke="#000" stroke-width="1.35" />
<line x1="51.7" y1="622.2" x2="51.7" y2="626.8" stroke="#000" stroke-width="1.35" />
<line x1="73.87" y1="622.2" x2="73.87" y2="624.7" stroke="#000" stroke-width="1.35" />
<line x1="86.84" y1="622.2" x2="86.84" y2="624.7" stroke="#000" stroke-width="1.35" />
<line x1="96.04" y1="622.2" x2="96.04" y2="624.7" stroke="#000" stroke-width="1.35" />
<line x1="103.18" y1="622.2" x2="103.18" y2="624.7" stroke="#000" stroke-width="1.35" />
<line x1="109.01" y1="622.2" x2="109.01" y2="624.7" stroke="#000" stroke-width="1.35" />
<line x1="113.94" y1="622.2" x2="113.94" y2="624.7" stroke="#000" stroke-width="1.35" />
<line x1="118.21" y1="622.2" x2="118.21" y2="624.7" stroke="#000" stroke-width="1.35" />
<line x1="121.98" y1="622.2" x2="121.98" y2="624.7" stroke="#000" stroke-width="1.35" />
<line x1="125.35" y1="622.2" x2="125.35" y2="626.8" stroke="#000" stroke-width="1.35" />
<line x1="147.52" y1="622.2" x2="147.52" y2="624.7" stroke="#000" stroke-width="1.35" />
<line x1="160.49" y1="622.2" x2="160.49" y2="624.7" stroke="#000" stroke-width="1.35" />
<line x1="169.69" y1="622.2" x2="169.69" y2="624.7" stroke="#000" stroke-width="1.35" />
<line x1="176.83" y1="622.2" x2="176.83" y2="624.7" stroke="#000" stroke-width="1.35" />
<line x1="182.66" y1="622.2" x2="182.66" y2="624.7" stroke="#000" stroke-width="1.35" />
<line x1="187.59" y1="622.2" x2="187.59" y2="624.7" stroke="#000" stroke-width="1.35" />
<line x1="191.86" y1="622.2" x2="191.86" y2="624.7" stroke="#000" stroke-width="1.35" />
<line x1="195.63" y1="622.2" x2="195.63" y2="624.7" stroke="#000" stroke-width="1.35" />
<line x1="199" y1="622.2" x2="199" y2="626.8" stroke="#000" stroke-width="1.35" />
<line x1="221.17" y1="622.2" x2="221.17" y2="624.7" stroke="#000" stroke-width="1.35" />
<line x1="234.14" y1="622.2" x2="234.14" y2="624.7" stroke="#000" stroke-width="1.35" />
<line x1="243.34" y1="622.2" x2="243.34" y2="624.7" stroke="#000" stroke-width="1.35" />
<line x1="250.48" y1="622.2" x2="250.48" y2="624.7" stroke="#000" stroke-width="1.35" />
<line x1="256.31" y1="622.2" x2="256.31" y2="624.7" stroke="#000" stroke-width="1.35" />
<line x1="261.24" y1="622.2" x2="261.24" y2="624.7" stroke="#000" stroke-width="1.35" />
<line x1="265.51" y1="622.2" x2="265.51" y2="624.7" stroke="#000" stroke-width="1.35" />
<line x1="269.28" y1="622.2" x2="269.28" y2="624.7" stroke="#000" stroke-width="1.35" />
<line x1="272.65" y1="622.2" x2="272.65" y2="626.8" stroke="#000" stroke-width="1.35" />
<line x1="294.82" y1="622.2" x2="294.82" y2="624.7" stroke="#000" stroke-width="1.35" />
<line x1="307.79" y1="622.2" x2="307.79" y2="624.7" stroke="#000" stroke-width="1.35" />
<line x1="316.99" y1="622.2" x2="316.99" y2="624.7" stroke="#000" stroke-width="1.35" />
<line x1="324.13" y1="622.2" x2="324.13" y2="624.7" stroke="#000" stroke-width="1.35" />
<line x1="329.96" y1="622.2" x2="329.96" y2="624.7" stroke="#000" stroke-width="1.35" />
<line x1="334.89" y1="622.2" x2="334.89" y2="624.7" stroke="#000" stroke-width="1.35" />
<line x1="339.16" y1="622.2" x2="339.16" y2="624.7" stroke="#000" stroke-width="1.35" />
<line x1="342.93" y1="622.2" x2="342.93" y2="624.7" stroke="#000" stroke-width="1.35" />
<line x1="346.3" y1="622.2" x2="346.3" y2="626.8" stroke="#000" stroke-width="1.35" />
<text x="48.82" y="638.5" font-size="9.7" text-anchor="start" fill="#262626" >1</text>
<text x="118.18" y="638.5" font-size="9.7" text-anchor="start" fill="#262626" >10</text>
<text x="188.98" y="638.5" font-size="9.7" text-anchor="start" fill="#262626" >100</text>
<text x="257.23" y="638.5" font-size="9.7" text-anchor="start" fill="#262626" >1,000</text>
<text x="326.89" y="638.5" font-size="9.7" text-anchor="start" fill="#262626" >10,000</text>
<line x1="373.4" y1="571.4" x2="677.4" y2="571.4" stroke="#999" stroke-width="0.9" stroke-dasharray="2.6 2.6"/>
<rect x="372.4" y="370.6" width="312" height="251.1" fill="none" stroke="#000" stroke-width="1.45"/>
<line x1="368.2" y1="621.62" x2="372.4" y2="621.62" stroke="#000" stroke-width="1.35" />
<line x1="370" y1="596.51" x2="372.4" y2="596.51" stroke="#000" stroke-width="1.35" />
<line x1="368.2" y1="571.4" x2="372.4" y2="571.4" stroke="#000" stroke-width="1.35" />
<line x1="370" y1="546.29" x2="372.4" y2="546.29" stroke="#000" stroke-width="1.35" />
<line x1="368.2" y1="521.18" x2="372.4" y2="521.18" stroke="#000" stroke-width="1.35" />
<line x1="370" y1="496.07" x2="372.4" y2="496.07" stroke="#000" stroke-width="1.35" />
<line x1="368.2" y1="470.96" x2="372.4" y2="470.96" stroke="#000" stroke-width="1.35" />
<line x1="370" y1="445.85" x2="372.4" y2="445.85" stroke="#000" stroke-width="1.35" />
<line x1="368.2" y1="420.74" x2="372.4" y2="420.74" stroke="#000" stroke-width="1.35" />
<line x1="370" y1="395.63" x2="372.4" y2="395.63" stroke="#000" stroke-width="1.35" />
<line x1="368.2" y1="370.52" x2="372.4" y2="370.52" stroke="#000" stroke-width="1.35" />
<line x1="372.73" y1="621.7" x2="372.73" y2="624.2" stroke="#000" stroke-width="1.35" />
<line x1="376.46" y1="621.7" x2="376.46" y2="624.2" stroke="#000" stroke-width="1.35" />
<line x1="379.8" y1="621.7" x2="379.8" y2="626.3" stroke="#000" stroke-width="1.35" />
<line x1="401.78" y1="621.7" x2="401.78" y2="624.2" stroke="#000" stroke-width="1.35" />
<line x1="414.63" y1="621.7" x2="414.63" y2="624.2" stroke="#000" stroke-width="1.35" />
<line x1="423.75" y1="621.7" x2="423.75" y2="624.2" stroke="#000" stroke-width="1.35" />
<line x1="430.82" y1="621.7" x2="430.82" y2="624.2" stroke="#000" stroke-width="1.35" />
<line x1="436.61" y1="621.7" x2="436.61" y2="624.2" stroke="#000" stroke-width="1.35" />
<line x1="441.49" y1="621.7" x2="441.49" y2="624.2" stroke="#000" stroke-width="1.35" />
<line x1="445.73" y1="621.7" x2="445.73" y2="624.2" stroke="#000" stroke-width="1.35" />
<line x1="449.46" y1="621.7" x2="449.46" y2="624.2" stroke="#000" stroke-width="1.35" />
<line x1="452.8" y1="621.7" x2="452.8" y2="626.3" stroke="#000" stroke-width="1.35" />
<line x1="474.78" y1="621.7" x2="474.78" y2="624.2" stroke="#000" stroke-width="1.35" />
<line x1="487.63" y1="621.7" x2="487.63" y2="624.2" stroke="#000" stroke-width="1.35" />
<line x1="496.75" y1="621.7" x2="496.75" y2="624.2" stroke="#000" stroke-width="1.35" />
<line x1="503.82" y1="621.7" x2="503.82" y2="624.2" stroke="#000" stroke-width="1.35" />
<line x1="509.61" y1="621.7" x2="509.61" y2="624.2" stroke="#000" stroke-width="1.35" />
<line x1="514.49" y1="621.7" x2="514.49" y2="624.2" stroke="#000" stroke-width="1.35" />
<line x1="518.73" y1="621.7" x2="518.73" y2="624.2" stroke="#000" stroke-width="1.35" />
<line x1="522.46" y1="621.7" x2="522.46" y2="624.2" stroke="#000" stroke-width="1.35" />
<line x1="525.8" y1="621.7" x2="525.8" y2="626.3" stroke="#000" stroke-width="1.35" />
<line x1="547.78" y1="621.7" x2="547.78" y2="624.2" stroke="#000" stroke-width="1.35" />
<line x1="560.63" y1="621.7" x2="560.63" y2="624.2" stroke="#000" stroke-width="1.35" />
<line x1="569.75" y1="621.7" x2="569.75" y2="624.2" stroke="#000" stroke-width="1.35" />
<line x1="576.82" y1="621.7" x2="576.82" y2="624.2" stroke="#000" stroke-width="1.35" />
<line x1="582.61" y1="621.7" x2="582.61" y2="624.2" stroke="#000" stroke-width="1.35" />
<line x1="587.49" y1="621.7" x2="587.49" y2="624.2" stroke="#000" stroke-width="1.35" />
<line x1="591.73" y1="621.7" x2="591.73" y2="624.2" stroke="#000" stroke-width="1.35" />
<line x1="595.46" y1="621.7" x2="595.46" y2="624.2" stroke="#000" stroke-width="1.35" />
<line x1="598.8" y1="621.7" x2="598.8" y2="626.3" stroke="#000" stroke-width="1.35" />
<line x1="620.78" y1="621.7" x2="620.78" y2="624.2" stroke="#000" stroke-width="1.35" />
<line x1="633.63" y1="621.7" x2="633.63" y2="624.2" stroke="#000" stroke-width="1.35" />
<line x1="642.75" y1="621.7" x2="642.75" y2="624.2" stroke="#000" stroke-width="1.35" />
<line x1="649.82" y1="621.7" x2="649.82" y2="624.2" stroke="#000" stroke-width="1.35" />
<line x1="655.61" y1="621.7" x2="655.61" y2="624.2" stroke="#000" stroke-width="1.35" />
<line x1="660.49" y1="621.7" x2="660.49" y2="624.2" stroke="#000" stroke-width="1.35" />
<line x1="664.73" y1="621.7" x2="664.73" y2="624.2" stroke="#000" stroke-width="1.35" />
<line x1="668.46" y1="621.7" x2="668.46" y2="624.2" stroke="#000" stroke-width="1.35" />
<line x1="671.8" y1="621.7" x2="671.8" y2="626.3" stroke="#000" stroke-width="1.35" />
<text x="377.42" y="638.5" font-size="9.7" text-anchor="start" fill="#262626" >1</text>
<text x="446.13" y="638.5" font-size="9.7" text-anchor="start" fill="#262626" >10</text>
<text x="516.28" y="638.5" font-size="9.7" text-anchor="start" fill="#262626" >100</text>
<text x="583.98" y="638.5" font-size="9.7" text-anchor="start" fill="#262626" >1,000</text>
<text x="653.19" y="638.5" font-size="9.7" text-anchor="start" fill="#262626" >10,000</text>
<text transform="translate(9.5,484.4) rotate(-90)" font-size="9.7" text-anchor="middle" fill="#262626">(Apparent) Frictional healing, Δ<tspan font-style="italic">μ</tspan> <tspan font-style="italic">or</tspan> Δ<tspan font-style="italic">μ</tspan><tspan font-size="6.0" dy="-3.4">pp</tspan></text>
<text x="322.8" y="657.4" font-size="9.7" text-anchor="start" fill="#262626" >Hold time, <tspan font-style="italic">t</tspan><tspan font-size="6.5" dy="2.4">h</tspan><tspan dy="-2.4"> (s)</tspan></text>
<line x1="86.6" y1="543.3" x2="86.6" y2="553.3" stroke="#2b58ad" stroke-width="1.0" />
<line x1="82.4" y1="543.3" x2="90.8" y2="543.3" stroke="#2b58ad" stroke-width="1.0" />
<line x1="82.4" y1="553.3" x2="90.8" y2="553.3" stroke="#2b58ad" stroke-width="1.0" />
<circle cx="86.6" cy="547.7" r="4.2" fill="#2b58ad"/>
<line x1="125.3" y1="517.5" x2="125.3" y2="524.7" stroke="#2b58ad" stroke-width="1.0" />
<line x1="121.1" y1="517.5" x2="129.5" y2="517.5" stroke="#2b58ad" stroke-width="1.0" />
<line x1="121.1" y1="524.7" x2="129.5" y2="524.7" stroke="#2b58ad" stroke-width="1.0" />
<circle cx="125.3" cy="521" r="4.2" fill="#2b58ad"/>
<line x1="160.7" y1="487.5" x2="160.7" y2="494.2" stroke="#2b58ad" stroke-width="1.0" />
<line x1="156.5" y1="487.5" x2="164.9" y2="487.5" stroke="#2b58ad" stroke-width="1.0" />
<line x1="156.5" y1="494.2" x2="164.9" y2="494.2" stroke="#2b58ad" stroke-width="1.0" />
<circle cx="160.7" cy="490.6" r="4.2" fill="#2b58ad"/>
<line x1="233.8" y1="468.5" x2="233.8" y2="474.2" stroke="#2b58ad" stroke-width="1.0" />
<line x1="229.6" y1="468.5" x2="238" y2="468.5" stroke="#2b58ad" stroke-width="1.0" />
<line x1="229.6" y1="474.2" x2="238" y2="474.2" stroke="#2b58ad" stroke-width="1.0" />
<circle cx="233.8" cy="471.3" r="4.2" fill="#2b58ad"/>
<line x1="272.2" y1="424.6" x2="272.2" y2="435.8" stroke="#2b58ad" stroke-width="1.0" />
<line x1="268" y1="424.6" x2="276.4" y2="424.6" stroke="#2b58ad" stroke-width="1.0" />
<line x1="268" y1="435.8" x2="276.4" y2="435.8" stroke="#2b58ad" stroke-width="1.0" />
<circle cx="272.2" cy="429.9" r="4.2" fill="#2b58ad"/>
<line x1="307.2" y1="406.5" x2="307.2" y2="417.3" stroke="#2b58ad" stroke-width="1.0" />
<line x1="303" y1="406.5" x2="311.4" y2="406.5" stroke="#2b58ad" stroke-width="1.0" />
<line x1="303" y1="417.3" x2="311.4" y2="417.3" stroke="#2b58ad" stroke-width="1.0" />
<circle cx="307.2" cy="412.2" r="4.2" fill="#2b58ad"/>
<line x1="86.6" y1="551.2" x2="86.6" y2="558.6" stroke="#ec2a2a" stroke-width="1.0" />
<line x1="82.4" y1="551.2" x2="90.8" y2="551.2" stroke="#ec2a2a" stroke-width="1.0" />
<line x1="82.4" y1="558.6" x2="90.8" y2="558.6" stroke="#ec2a2a" stroke-width="1.0" />
<polygon points="86.6,550.98 81.5,559.38 91.7,559.38" fill="#ec2a2a"/>
<line x1="125.3" y1="538.5" x2="125.3" y2="547.7" stroke="#ec2a2a" stroke-width="1.0" />
<line x1="121.1" y1="538.5" x2="129.5" y2="538.5" stroke="#ec2a2a" stroke-width="1.0" />
<line x1="121.1" y1="547.7" x2="129.5" y2="547.7" stroke="#ec2a2a" stroke-width="1.0" />
<polygon points="125.3,538.88 120.2,547.28 130.4,547.28" fill="#ec2a2a"/>
<line x1="160.7" y1="525.3" x2="160.7" y2="535.5" stroke="#ec2a2a" stroke-width="1.0" />
<line x1="156.5" y1="525.3" x2="164.9" y2="525.3" stroke="#ec2a2a" stroke-width="1.0" />
<line x1="156.5" y1="535.5" x2="164.9" y2="535.5" stroke="#ec2a2a" stroke-width="1.0" />
<polygon points="160.7,525.98 155.6,534.38 165.8,534.38" fill="#ec2a2a"/>
<line x1="198.8" y1="523.5" x2="198.8" y2="532.4" stroke="#ec2a2a" stroke-width="1.0" />
<line x1="194.6" y1="523.5" x2="203" y2="523.5" stroke="#ec2a2a" stroke-width="1.0" />
<line x1="194.6" y1="532.4" x2="203" y2="532.4" stroke="#ec2a2a" stroke-width="1.0" />
<polygon points="198.8,523.38 193.7,531.78 203.9,531.78" fill="#ec2a2a"/>
<line x1="233.8" y1="516.5" x2="233.8" y2="525.6" stroke="#ec2a2a" stroke-width="1.0" />
<line x1="229.6" y1="516.5" x2="238" y2="516.5" stroke="#ec2a2a" stroke-width="1.0" />
<line x1="229.6" y1="525.6" x2="238" y2="525.6" stroke="#ec2a2a" stroke-width="1.0" />
<polygon points="233.8,516.18 228.7,524.58 238.9,524.58" fill="#ec2a2a"/>
<line x1="272.2" y1="500.4" x2="272.2" y2="508.3" stroke="#ec2a2a" stroke-width="1.0" />
<line x1="268" y1="500.4" x2="276.4" y2="500.4" stroke="#ec2a2a" stroke-width="1.0" />
<line x1="268" y1="508.3" x2="276.4" y2="508.3" stroke="#ec2a2a" stroke-width="1.0" />
<polygon points="272.2,499.38 267.1,507.78 277.3,507.78" fill="#ec2a2a"/>
<line x1="307.2" y1="493.7" x2="307.2" y2="502.4" stroke="#ec2a2a" stroke-width="1.0" />
<line x1="303" y1="493.7" x2="311.4" y2="493.7" stroke="#ec2a2a" stroke-width="1.0" />
<line x1="303" y1="502.4" x2="311.4" y2="502.4" stroke="#ec2a2a" stroke-width="1.0" />
<polygon points="307.2,493.58 302.1,501.98 312.3,501.98" fill="#ec2a2a"/>
<line x1="86.9" y1="513.3" x2="86.9" y2="524.4" stroke="#a65aab" stroke-width="1.0" />
<line x1="82.7" y1="513.3" x2="91.1" y2="513.3" stroke="#a65aab" stroke-width="1.0" />
<line x1="82.7" y1="524.4" x2="91.1" y2="524.4" stroke="#a65aab" stroke-width="1.0" />
<polygon points="86.9,513.8 91.7,518.6 86.9,523.4 82.1,518.6" fill="#a65aab"/>
<line x1="125.3" y1="498.3" x2="125.3" y2="508.5" stroke="#a65aab" stroke-width="1.0" />
<line x1="121.1" y1="498.3" x2="129.5" y2="498.3" stroke="#a65aab" stroke-width="1.0" />
<line x1="121.1" y1="508.5" x2="129.5" y2="508.5" stroke="#a65aab" stroke-width="1.0" />
<polygon points="125.3,498.8 130.1,503.6 125.3,508.4 120.5,503.6" fill="#a65aab"/>
<line x1="160.7" y1="472.5" x2="160.7" y2="483.1" stroke="#a65aab" stroke-width="1.0" />
<line x1="156.5" y1="472.5" x2="164.9" y2="472.5" stroke="#a65aab" stroke-width="1.0" />
<line x1="156.5" y1="483.1" x2="164.9" y2="483.1" stroke="#a65aab" stroke-width="1.0" />
<polygon points="160.7,472.8 165.5,477.6 160.7,482.4 155.9,477.6" fill="#a65aab"/>
<line x1="198.8" y1="462.3" x2="198.8" y2="472.5" stroke="#a65aab" stroke-width="1.0" />
<line x1="194.6" y1="462.3" x2="203" y2="462.3" stroke="#a65aab" stroke-width="1.0" />
<line x1="194.6" y1="472.5" x2="203" y2="472.5" stroke="#a65aab" stroke-width="1.0" />
<polygon points="198.8,462.5 203.6,467.3 198.8,472.1 194,467.3" fill="#a65aab"/>
<line x1="233.8" y1="434.4" x2="233.8" y2="444.9" stroke="#a65aab" stroke-width="1.0" />
<line x1="229.6" y1="434.4" x2="238" y2="434.4" stroke="#a65aab" stroke-width="1.0" />
<line x1="229.6" y1="444.9" x2="238" y2="444.9" stroke="#a65aab" stroke-width="1.0" />
<polygon points="233.8,434.6 238.6,439.4 233.8,444.2 229,439.4" fill="#a65aab"/>
<line x1="272.2" y1="435.4" x2="272.2" y2="446.3" stroke="#a65aab" stroke-width="1.0" />
<line x1="268" y1="435.4" x2="276.4" y2="435.4" stroke="#a65aab" stroke-width="1.0" />
<line x1="268" y1="446.3" x2="276.4" y2="446.3" stroke="#a65aab" stroke-width="1.0" />
<polygon points="272.2,435.6 277,440.4 272.2,445.2 267.4,440.4" fill="#a65aab"/>
<line x1="307.2" y1="431.5" x2="307.2" y2="444.3" stroke="#a65aab" stroke-width="1.0" />
<line x1="303" y1="431.5" x2="311.4" y2="431.5" stroke="#a65aab" stroke-width="1.0" />
<line x1="303" y1="444.3" x2="311.4" y2="444.3" stroke="#a65aab" stroke-width="1.0" />
<polygon points="307.2,432.2 312,437 307.2,441.8 302.4,437" fill="#a65aab"/>
<line x1="86.9" y1="531.6" x2="86.9" y2="539.8" stroke="#6cbf47" stroke-width="1.0" />
<line x1="82.7" y1="531.6" x2="91.1" y2="531.6" stroke="#6cbf47" stroke-width="1.0" />
<line x1="82.7" y1="539.8" x2="91.1" y2="539.8" stroke="#6cbf47" stroke-width="1.0" />
<polygon points="86.9,531.2 88.08,534.37 91.47,534.52 88.82,536.62 89.72,539.88 86.9,538.02 84.08,539.88 84.98,536.62 82.33,534.52 85.72,534.37" fill="#6cbf47"/>
<line x1="125.3" y1="517.5" x2="125.3" y2="524.7" stroke="#6cbf47" stroke-width="1.0" />
<line x1="121.1" y1="517.5" x2="129.5" y2="517.5" stroke="#6cbf47" stroke-width="1.0" />
<line x1="121.1" y1="524.7" x2="129.5" y2="524.7" stroke="#6cbf47" stroke-width="1.0" />
<polygon points="125.3,516.7 126.48,519.87 129.87,520.02 127.22,522.12 128.12,525.38 125.3,523.52 122.48,525.38 123.38,522.12 120.73,520.02 124.12,519.87" fill="#6cbf47"/>
<line x1="160.7" y1="489.2" x2="160.7" y2="498" stroke="#6cbf47" stroke-width="1.0" />
<line x1="156.5" y1="489.2" x2="164.9" y2="489.2" stroke="#6cbf47" stroke-width="1.0" />
<line x1="156.5" y1="498" x2="164.9" y2="498" stroke="#6cbf47" stroke-width="1.0" />
<polygon points="160.7,489.1 161.88,492.27 165.27,492.42 162.62,494.52 163.52,497.78 160.7,495.92 157.88,497.78 158.78,494.52 156.13,492.42 159.52,492.27" fill="#6cbf47"/>
<line x1="198.8" y1="480.6" x2="198.8" y2="490.2" stroke="#6cbf47" stroke-width="1.0" />
<line x1="194.6" y1="480.6" x2="203" y2="480.6" stroke="#6cbf47" stroke-width="1.0" />
<line x1="194.6" y1="490.2" x2="203" y2="490.2" stroke="#6cbf47" stroke-width="1.0" />
<polygon points="198.8,480.9 199.98,484.07 203.37,484.22 200.72,486.32 201.62,489.58 198.8,487.72 195.98,489.58 196.88,486.32 194.23,484.22 197.62,484.07" fill="#6cbf47"/>
<line x1="233.8" y1="474.4" x2="233.8" y2="482.7" stroke="#6cbf47" stroke-width="1.0" />
<line x1="229.6" y1="474.4" x2="238" y2="474.4" stroke="#6cbf47" stroke-width="1.0" />
<line x1="229.6" y1="482.7" x2="238" y2="482.7" stroke="#6cbf47" stroke-width="1.0" />
<polygon points="233.8,474.2 234.98,477.37 238.37,477.52 235.72,479.62 236.62,482.88 233.8,481.02 230.98,482.88 231.88,479.62 229.23,477.52 232.62,477.37" fill="#6cbf47"/>
<line x1="272.2" y1="465.4" x2="272.2" y2="474.4" stroke="#6cbf47" stroke-width="1.0" />
<line x1="268" y1="465.4" x2="276.4" y2="465.4" stroke="#6cbf47" stroke-width="1.0" />
<line x1="268" y1="474.4" x2="276.4" y2="474.4" stroke="#6cbf47" stroke-width="1.0" />
<polygon points="272.2,465.4 273.38,468.57 276.77,468.72 274.12,470.82 275.02,474.08 272.2,472.22 269.38,474.08 270.28,470.82 267.63,468.72 271.02,468.57" fill="#6cbf47"/>
<line x1="307.2" y1="464.6" x2="307.2" y2="473.8" stroke="#6cbf47" stroke-width="1.0" />
<line x1="303" y1="464.6" x2="311.4" y2="464.6" stroke="#6cbf47" stroke-width="1.0" />
<line x1="303" y1="473.8" x2="311.4" y2="473.8" stroke="#6cbf47" stroke-width="1.0" />
<polygon points="307.2,464.4 308.38,467.57 311.77,467.72 309.12,469.82 310.02,473.08 307.2,471.22 304.38,473.08 305.28,469.82 302.63,467.72 306.02,467.57" fill="#6cbf47"/>
<rect x="51.6" y="373.3" width="115" height="64.8" fill="#fff" stroke="#3a3a3a" stroke-width="0.95"/>
<text x="54.3" y="383.6" font-size="9.7" text-anchor="start" fill="#262626" >Dry experiments</text>
<circle cx="65.7" cy="393" r="4.2" fill="#2b58ad"/>
<text x="76.6" y="396.1" font-size="9.7" text-anchor="start" fill="#262626" >100 °C</text>
<text x="112.6" y="396.1" font-size="9.7" text-anchor="start" fill="#262626" >LHV2759</text>
<polygon points="65.8,399.09 60.7,407.29 70.9,407.29" fill="#ec2a2a"/>
<text x="76.6" y="407.7" font-size="9.7" text-anchor="start" fill="#262626" >200 °C</text>
<text x="112.6" y="407.7" font-size="9.7" text-anchor="start" fill="#262626" >LHV2715</text>
<polygon points="65.8,412.1 70.8,417.1 65.8,422.1 60.8,417.1" fill="#a65aab"/>
<text x="76.6" y="419.3" font-size="9.7" text-anchor="start" fill="#262626" >300 °C</text>
<text x="112.6" y="419.3" font-size="9.7" text-anchor="start" fill="#262626" >LHV2721</text>
<polygon points="65.8,423 67.01,426.24 70.46,426.39 67.76,428.54 68.68,431.86 65.8,429.96 62.92,431.86 63.84,428.54 61.14,426.39 64.59,426.24" fill="#6cbf47"/>
<text x="76.6" y="430.9" font-size="9.7" text-anchor="start" fill="#262626" >400 °C</text>
<text x="112.6" y="430.9" font-size="9.7" text-anchor="start" fill="#262626" >LHV2757</text>
<line x1="414.3" y1="545" x2="414.3" y2="551.5" stroke="#000" stroke-width="1.0" />
<line x1="410.1" y1="545" x2="418.5" y2="545" stroke="#000" stroke-width="1.0" />
<line x1="410.1" y1="551.5" x2="418.5" y2="551.5" stroke="#000" stroke-width="1.0" />
<rect x="411.1" y="545" width="6.4" height="6.4" fill="#000"/>
<line x1="452.4" y1="532.3" x2="452.4" y2="540.5" stroke="#000" stroke-width="1.0" />
<line x1="448.2" y1="532.3" x2="456.6" y2="532.3" stroke="#000" stroke-width="1.0" />
<line x1="448.2" y1="540.5" x2="456.6" y2="540.5" stroke="#000" stroke-width="1.0" />
<rect x="449.2" y="533.3" width="6.4" height="6.4" fill="#000"/>
<line x1="487.3" y1="520.5" x2="487.3" y2="529.2" stroke="#000" stroke-width="1.0" />
<line x1="483.1" y1="520.5" x2="491.5" y2="520.5" stroke="#000" stroke-width="1.0" />
<line x1="483.1" y1="529.2" x2="491.5" y2="529.2" stroke="#000" stroke-width="1.0" />
<rect x="484.1" y="521.5" width="6.4" height="6.4" fill="#000"/>
<line x1="525.3" y1="511.3" x2="525.3" y2="518.5" stroke="#000" stroke-width="1.0" />
<line x1="521.1" y1="511.3" x2="529.5" y2="511.3" stroke="#000" stroke-width="1.0" />
<line x1="521.1" y1="518.5" x2="529.5" y2="518.5" stroke="#000" stroke-width="1.0" />
<rect x="522.1" y="511.7" width="6.4" height="6.4" fill="#000"/>
<line x1="560" y1="490.5" x2="560" y2="499.6" stroke="#000" stroke-width="1.0" />
<line x1="555.8" y1="490.5" x2="564.2" y2="490.5" stroke="#000" stroke-width="1.0" />
<line x1="555.8" y1="499.6" x2="564.2" y2="499.6" stroke="#000" stroke-width="1.0" />
<rect x="556.8" y="491.8" width="6.4" height="6.4" fill="#000"/>
<line x1="598.5" y1="467.3" x2="598.5" y2="474.1" stroke="#000" stroke-width="1.0" />
<line x1="594.3" y1="467.3" x2="602.7" y2="467.3" stroke="#000" stroke-width="1.0" />
<line x1="594.3" y1="474.1" x2="602.7" y2="474.1" stroke="#000" stroke-width="1.0" />
<rect x="595.3" y="467.5" width="6.4" height="6.4" fill="#000"/>
<line x1="633.3" y1="457.5" x2="633.3" y2="466.5" stroke="#000" stroke-width="1.0" />
<line x1="629.1" y1="457.5" x2="637.5" y2="457.5" stroke="#000" stroke-width="1.0" />
<line x1="629.1" y1="466.5" x2="637.5" y2="466.5" stroke="#000" stroke-width="1.0" />
<rect x="630.1" y="459.6" width="6.4" height="6.4" fill="#000"/>
<line x1="414.3" y1="540.2" x2="414.3" y2="547.8" stroke="#2b58ad" stroke-width="1.0" />
<line x1="410.1" y1="540.2" x2="418.5" y2="540.2" stroke="#2b58ad" stroke-width="1.0" />
<line x1="410.1" y1="547.8" x2="418.5" y2="547.8" stroke="#2b58ad" stroke-width="1.0" />
<circle cx="414.3" cy="544" r="4.2" fill="#2b58ad"/>
<line x1="452.4" y1="519.4" x2="452.4" y2="528.4" stroke="#2b58ad" stroke-width="1.0" />
<line x1="448.2" y1="519.4" x2="456.6" y2="519.4" stroke="#2b58ad" stroke-width="1.0" />
<line x1="448.2" y1="528.4" x2="456.6" y2="528.4" stroke="#2b58ad" stroke-width="1.0" />
<circle cx="452.4" cy="524.1" r="4.2" fill="#2b58ad"/>
<line x1="487.3" y1="513.4" x2="487.3" y2="522.5" stroke="#2b58ad" stroke-width="1.0" />
<line x1="483.1" y1="513.4" x2="491.5" y2="513.4" stroke="#2b58ad" stroke-width="1.0" />
<line x1="483.1" y1="522.5" x2="491.5" y2="522.5" stroke="#2b58ad" stroke-width="1.0" />
<circle cx="487.3" cy="518" r="4.2" fill="#2b58ad"/>
<line x1="525.3" y1="485.4" x2="525.3" y2="497.7" stroke="#2b58ad" stroke-width="1.0" />
<line x1="521.1" y1="485.4" x2="529.5" y2="485.4" stroke="#2b58ad" stroke-width="1.0" />
<line x1="521.1" y1="497.7" x2="529.5" y2="497.7" stroke="#2b58ad" stroke-width="1.0" />
<circle cx="525.3" cy="491.6" r="4.2" fill="#2b58ad"/>
<line x1="560" y1="474" x2="560" y2="485.3" stroke="#2b58ad" stroke-width="1.0" />
<line x1="555.8" y1="474" x2="564.2" y2="474" stroke="#2b58ad" stroke-width="1.0" />
<line x1="555.8" y1="485.3" x2="564.2" y2="485.3" stroke="#2b58ad" stroke-width="1.0" />
<circle cx="560" cy="479.8" r="4.2" fill="#2b58ad"/>
<line x1="598.5" y1="461.7" x2="598.5" y2="469.1" stroke="#2b58ad" stroke-width="1.0" />
<line x1="594.3" y1="461.7" x2="602.7" y2="461.7" stroke="#2b58ad" stroke-width="1.0" />
<line x1="594.3" y1="469.1" x2="602.7" y2="469.1" stroke="#2b58ad" stroke-width="1.0" />
<circle cx="598.5" cy="464.9" r="4.2" fill="#2b58ad"/>
<line x1="633.3" y1="449.5" x2="633.3" y2="457" stroke="#2b58ad" stroke-width="1.0" />
<line x1="629.1" y1="449.5" x2="637.5" y2="449.5" stroke="#2b58ad" stroke-width="1.0" />
<line x1="629.1" y1="457" x2="637.5" y2="457" stroke="#2b58ad" stroke-width="1.0" />
<circle cx="633.3" cy="454.3" r="4.2" fill="#2b58ad"/>
<line x1="410.1" y1="549" x2="418.5" y2="549" stroke="#ec2a2a" stroke-width="1.0" />
<line x1="410.1" y1="555" x2="418.5" y2="555" stroke="#ec2a2a" stroke-width="1.0" />
<polygon points="414.3,547.6 409.9,555.58 418.7,555.58" fill="none" stroke="#ec2a2a" stroke-width="1.2"/>
<line x1="452.4" y1="533" x2="452.4" y2="534.6" stroke="#ec2a2a" stroke-width="1.0" />
<line x1="452.4" y1="543.2" x2="452.4" y2="544.5" stroke="#ec2a2a" stroke-width="1.0" />
<line x1="448.2" y1="533" x2="456.6" y2="533" stroke="#ec2a2a" stroke-width="1.0" />
<line x1="448.2" y1="544.5" x2="456.6" y2="544.5" stroke="#ec2a2a" stroke-width="1.0" />
<polygon points="452.4,534.7 448,542.68 456.8,542.68" fill="none" stroke="#ec2a2a" stroke-width="1.2"/>
<line x1="487.3" y1="532.1" x2="487.3" y2="532.9" stroke="#ec2a2a" stroke-width="1.0" />
<line x1="487.3" y1="541.5" x2="487.3" y2="542.4" stroke="#ec2a2a" stroke-width="1.0" />
<line x1="483.1" y1="532.1" x2="491.5" y2="532.1" stroke="#ec2a2a" stroke-width="1.0" />
<line x1="483.1" y1="542.4" x2="491.5" y2="542.4" stroke="#ec2a2a" stroke-width="1.0" />
<polygon points="487.3,533 482.9,540.98 491.7,540.98" fill="none" stroke="#ec2a2a" stroke-width="1.2"/>
<line x1="525.3" y1="533" x2="525.3" y2="533.5" stroke="#ec2a2a" stroke-width="1.0" />
<line x1="525.3" y1="542.1" x2="525.3" y2="542.2" stroke="#ec2a2a" stroke-width="1.0" />
<line x1="521.1" y1="533" x2="529.5" y2="533" stroke="#ec2a2a" stroke-width="1.0" />
<line x1="521.1" y1="542.2" x2="529.5" y2="542.2" stroke="#ec2a2a" stroke-width="1.0" />
<polygon points="525.3,533.6 520.9,541.58 529.7,541.58" fill="none" stroke="#ec2a2a" stroke-width="1.2"/>
<line x1="560.1" y1="538" x2="560.1" y2="538.5" stroke="#ec2a2a" stroke-width="1.0" />
<line x1="560.1" y1="547.1" x2="560.1" y2="548" stroke="#ec2a2a" stroke-width="1.0" />
<line x1="555.9" y1="538" x2="564.3" y2="538" stroke="#ec2a2a" stroke-width="1.0" />
<line x1="555.9" y1="548" x2="564.3" y2="548" stroke="#ec2a2a" stroke-width="1.0" />
<polygon points="560.1,538.6 555.7,546.58 564.5,546.58" fill="none" stroke="#ec2a2a" stroke-width="1.2"/>
<line x1="598.3" y1="535.4" x2="598.3" y2="536.4" stroke="#ec2a2a" stroke-width="1.0" />
<line x1="598.3" y1="545" x2="598.3" y2="548" stroke="#ec2a2a" stroke-width="1.0" />
<line x1="594.1" y1="535.4" x2="602.5" y2="535.4" stroke="#ec2a2a" stroke-width="1.0" />
<line x1="594.1" y1="548" x2="602.5" y2="548" stroke="#ec2a2a" stroke-width="1.0" />
<polygon points="598.3,536.5 593.9,544.48 602.7,544.48" fill="none" stroke="#ec2a2a" stroke-width="1.2"/>
<line x1="632.9" y1="546.6" x2="632.9" y2="547.2" stroke="#ec2a2a" stroke-width="1.0" />
<line x1="632.9" y1="555.8" x2="632.9" y2="555.9" stroke="#ec2a2a" stroke-width="1.0" />
<line x1="628.7" y1="546.6" x2="637.1" y2="546.6" stroke="#ec2a2a" stroke-width="1.0" />
<line x1="628.7" y1="555.9" x2="637.1" y2="555.9" stroke="#ec2a2a" stroke-width="1.0" />
<polygon points="632.9,547.3 628.5,555.28 637.3,555.28" fill="none" stroke="#ec2a2a" stroke-width="1.2"/>
<line x1="649.5" y1="560.6" x2="649.5" y2="562.1" stroke="#ec2a2a" stroke-width="1.0" />
<line x1="649.5" y1="570.7" x2="649.5" y2="572.6" stroke="#ec2a2a" stroke-width="1.0" />
<line x1="645.3" y1="560.6" x2="653.7" y2="560.6" stroke="#ec2a2a" stroke-width="1.0" />
<line x1="645.3" y1="572.6" x2="653.7" y2="572.6" stroke="#ec2a2a" stroke-width="1.0" />
<polygon points="649.5,562.2 645.1,570.18 653.9,570.18" fill="none" stroke="#ec2a2a" stroke-width="1.2"/>
<line x1="410.1" y1="532.5" x2="418.5" y2="532.5" stroke="#a65aab" stroke-width="1.0" />
<line x1="410.1" y1="538" x2="418.5" y2="538" stroke="#a65aab" stroke-width="1.0" />
<polygon points="414.3,530.4 419.2,535.3 414.3,540.2 409.4,535.3" fill="none" stroke="#a65aab" stroke-width="1.2"/>
<line x1="448.2" y1="505.5" x2="456.6" y2="505.5" stroke="#a65aab" stroke-width="1.0" />
<line x1="448.2" y1="511.5" x2="456.6" y2="511.5" stroke="#a65aab" stroke-width="1.0" />
<polygon points="452.4,503.6 457.3,508.5 452.4,513.4 447.5,508.5" fill="none" stroke="#a65aab" stroke-width="1.2"/>
<line x1="487.3" y1="483.4" x2="487.3" y2="486.3" stroke="#a65aab" stroke-width="1.0" />
<line x1="487.3" y1="496.3" x2="487.3" y2="498.5" stroke="#a65aab" stroke-width="1.0" />
<line x1="483.1" y1="483.4" x2="491.5" y2="483.4" stroke="#a65aab" stroke-width="1.0" />
<line x1="483.1" y1="498.5" x2="491.5" y2="498.5" stroke="#a65aab" stroke-width="1.0" />
<polygon points="487.3,486.4 492.2,491.3 487.3,496.2 482.4,491.3" fill="none" stroke="#a65aab" stroke-width="1.2"/>
<line x1="525.3" y1="461.3" x2="525.3" y2="462.6" stroke="#a65aab" stroke-width="1.0" />
<line x1="525.3" y1="472.6" x2="525.3" y2="473.4" stroke="#a65aab" stroke-width="1.0" />
<line x1="521.1" y1="461.3" x2="529.5" y2="461.3" stroke="#a65aab" stroke-width="1.0" />
<line x1="521.1" y1="473.4" x2="529.5" y2="473.4" stroke="#a65aab" stroke-width="1.0" />
<polygon points="525.3,462.7 530.2,467.6 525.3,472.5 520.4,467.6" fill="none" stroke="#a65aab" stroke-width="1.2"/>
<line x1="560" y1="453.5" x2="560" y2="454.9" stroke="#a65aab" stroke-width="1.0" />
<line x1="560" y1="464.9" x2="560" y2="465.6" stroke="#a65aab" stroke-width="1.0" />
<line x1="555.8" y1="453.5" x2="564.2" y2="453.5" stroke="#a65aab" stroke-width="1.0" />
<line x1="555.8" y1="465.6" x2="564.2" y2="465.6" stroke="#a65aab" stroke-width="1.0" />
<polygon points="560,455 564.9,459.9 560,464.8 555.1,459.9" fill="none" stroke="#a65aab" stroke-width="1.2"/>
<line x1="598.5" y1="456.4" x2="598.5" y2="457.6" stroke="#a65aab" stroke-width="1.0" />
<line x1="598.5" y1="467.6" x2="598.5" y2="468.6" stroke="#a65aab" stroke-width="1.0" />
<line x1="594.3" y1="456.4" x2="602.7" y2="456.4" stroke="#a65aab" stroke-width="1.0" />
<line x1="594.3" y1="468.6" x2="602.7" y2="468.6" stroke="#a65aab" stroke-width="1.0" />
<polygon points="598.5,457.7 603.4,462.6 598.5,467.5 593.6,462.6" fill="none" stroke="#a65aab" stroke-width="1.2"/>
<line x1="633.3" y1="473.7" x2="633.3" y2="475.2" stroke="#a65aab" stroke-width="1.0" />
<line x1="633.3" y1="485.2" x2="633.3" y2="486.4" stroke="#a65aab" stroke-width="1.0" />
<line x1="629.1" y1="473.7" x2="637.5" y2="473.7" stroke="#a65aab" stroke-width="1.0" />
<line x1="629.1" y1="486.4" x2="637.5" y2="486.4" stroke="#a65aab" stroke-width="1.0" />
<polygon points="633.3,475.3 638.2,480.2 633.3,485.1 628.4,480.2" fill="none" stroke="#a65aab" stroke-width="1.2"/>
<line x1="410.1" y1="528" x2="418.5" y2="528" stroke="#6cbf47" stroke-width="1.0" />
<line x1="410.1" y1="532.5" x2="418.5" y2="532.5" stroke="#6cbf47" stroke-width="1.0" />
<polygon points="414.3,525.2 415.61,528.7 419.34,528.86 416.42,531.19 417.42,534.79 414.3,532.73 411.18,534.79 412.18,531.19 409.26,528.86 412.99,528.7" fill="none" stroke="#6cbf47" stroke-width="1.2" stroke-linejoin="miter"/>
<line x1="448.2" y1="510" x2="456.6" y2="510" stroke="#6cbf47" stroke-width="1.0" />
<line x1="448.2" y1="515" x2="456.6" y2="515" stroke="#6cbf47" stroke-width="1.0" />
<polygon points="452.4,507.7 453.71,511.2 457.44,511.36 454.52,513.69 455.52,517.29 452.4,515.23 449.28,517.29 450.28,513.69 447.36,511.36 451.09,511.2" fill="none" stroke="#6cbf47" stroke-width="1.2" stroke-linejoin="miter"/>
<line x1="483.1" y1="508" x2="491.5" y2="508" stroke="#6cbf47" stroke-width="1.0" />
<line x1="483.1" y1="517" x2="491.5" y2="517" stroke="#6cbf47" stroke-width="1.0" />
<polygon points="487.3,507.4 488.61,510.9 492.34,511.06 489.42,513.39 490.42,516.99 487.3,514.93 484.18,516.99 485.18,513.39 482.26,511.06 485.99,510.9" fill="none" stroke="#6cbf47" stroke-width="1.2" stroke-linejoin="miter"/>
<line x1="525.3" y1="516.4" x2="525.3" y2="516.7" stroke="#6cbf47" stroke-width="1.0" />
<line x1="525.3" y1="525.9" x2="525.3" y2="526.2" stroke="#6cbf47" stroke-width="1.0" />
<line x1="521.1" y1="516.4" x2="529.5" y2="516.4" stroke="#6cbf47" stroke-width="1.0" />
<line x1="521.1" y1="526.2" x2="529.5" y2="526.2" stroke="#6cbf47" stroke-width="1.0" />
<polygon points="525.3,516.3 526.61,519.8 530.34,519.96 527.42,522.29 528.42,525.89 525.3,523.83 522.18,525.89 523.18,522.29 520.26,519.96 523.99,519.8" fill="none" stroke="#6cbf47" stroke-width="1.2" stroke-linejoin="miter"/>
<line x1="560.1" y1="552.6" x2="560.1" y2="553" stroke="#6cbf47" stroke-width="1.0" />
<line x1="555.9" y1="543.7" x2="564.3" y2="543.7" stroke="#6cbf47" stroke-width="1.0" />
<line x1="555.9" y1="553" x2="564.3" y2="553" stroke="#6cbf47" stroke-width="1.0" />
<polygon points="560.1,543 561.41,546.5 565.14,546.66 562.22,548.99 563.22,552.59 560.1,550.53 556.98,552.59 557.98,548.99 555.06,546.66 558.79,546.5" fill="none" stroke="#6cbf47" stroke-width="1.2" stroke-linejoin="miter"/>
<line x1="594.1" y1="577.8" x2="602.5" y2="577.8" stroke="#6cbf47" stroke-width="1.0" />
<line x1="594.1" y1="586.2" x2="602.5" y2="586.2" stroke="#6cbf47" stroke-width="1.0" />
<polygon points="598.3,577.2 599.61,580.7 603.34,580.86 600.42,583.19 601.42,586.79 598.3,584.73 595.18,586.79 596.18,583.19 593.26,580.86 596.99,580.7" fill="none" stroke="#6cbf47" stroke-width="1.2" stroke-linejoin="miter"/>
<line x1="632.9" y1="608.5" x2="632.9" y2="610" stroke="#6cbf47" stroke-width="1.0" />
<line x1="632.9" y1="619.2" x2="632.9" y2="619.5" stroke="#6cbf47" stroke-width="1.0" />
<line x1="628.7" y1="608.5" x2="637.1" y2="608.5" stroke="#6cbf47" stroke-width="1.0" />
<line x1="628.7" y1="619.5" x2="637.1" y2="619.5" stroke="#6cbf47" stroke-width="1.0" />
<polygon points="632.9,609.6 634.21,613.1 637.94,613.26 635.02,615.59 636.02,619.19 632.9,617.13 629.78,619.19 630.78,615.59 627.86,613.26 631.59,613.1" fill="none" stroke="#6cbf47" stroke-width="1.2" stroke-linejoin="miter"/>
<rect x="378.6" y="375.1" width="127.4" height="73.9" fill="#fff" stroke="#3a3a3a" stroke-width="0.95"/>
<text x="379.9" y="384.9" font-size="9.7" text-anchor="start" fill="#262626" >Hydrothermal experiments</text>
<rect x="389.1" y="389.3" width="7.2" height="7.2" fill="#000"/>
<text x="406" y="396.4" font-size="9.7" text-anchor="start" fill="#262626" >25 °C</text>
<text x="441.6" y="396.4" font-size="9.7" text-anchor="start" fill="#262626" >LHV2782</text>
<circle cx="392.7" cy="404.5" r="4.2" fill="#2b58ad"/>
<text x="406" y="408" font-size="9.7" text-anchor="start" fill="#262626" >100 °C</text>
<text x="441.6" y="408" font-size="9.7" text-anchor="start" fill="#262626" >LHV2733</text>
<polygon points="392.7,412.2 388.1,420.37 397.3,420.37" fill="none" stroke="#ec2a2a" stroke-width="1.2"/>
<text x="406" y="419.6" font-size="9.7" text-anchor="start" fill="#262626" >200 °C</text>
<text x="441.6" y="419.6" font-size="9.7" text-anchor="start" fill="#262626" >LHV2760</text>
<polygon points="392.7,422.9 397.5,427.7 392.7,432.5 387.9,427.7" fill="none" stroke="#a65aab" stroke-width="1.2"/>
<text x="406" y="431.2" font-size="9.7" text-anchor="start" fill="#262626" >300 °C</text>
<text x="441.6" y="431.2" font-size="9.7" text-anchor="start" fill="#262626" >LHV2755</text>
<polygon points="392.7,434.4 393.98,437.83 397.65,437.99 394.78,440.27 395.76,443.81 392.7,441.78 389.64,443.81 390.62,440.27 387.75,437.99 391.42,437.83" fill="none" stroke="#6cbf47" stroke-width="1.2" stroke-linejoin="miter"/>
<text x="406" y="442.8" font-size="9.7" text-anchor="start" fill="#262626" >400 °C</text>
<text x="441.6" y="442.8" font-size="9.7" text-anchor="start" fill="#262626" >LHV2734</text>
</svg>
</body></html>
